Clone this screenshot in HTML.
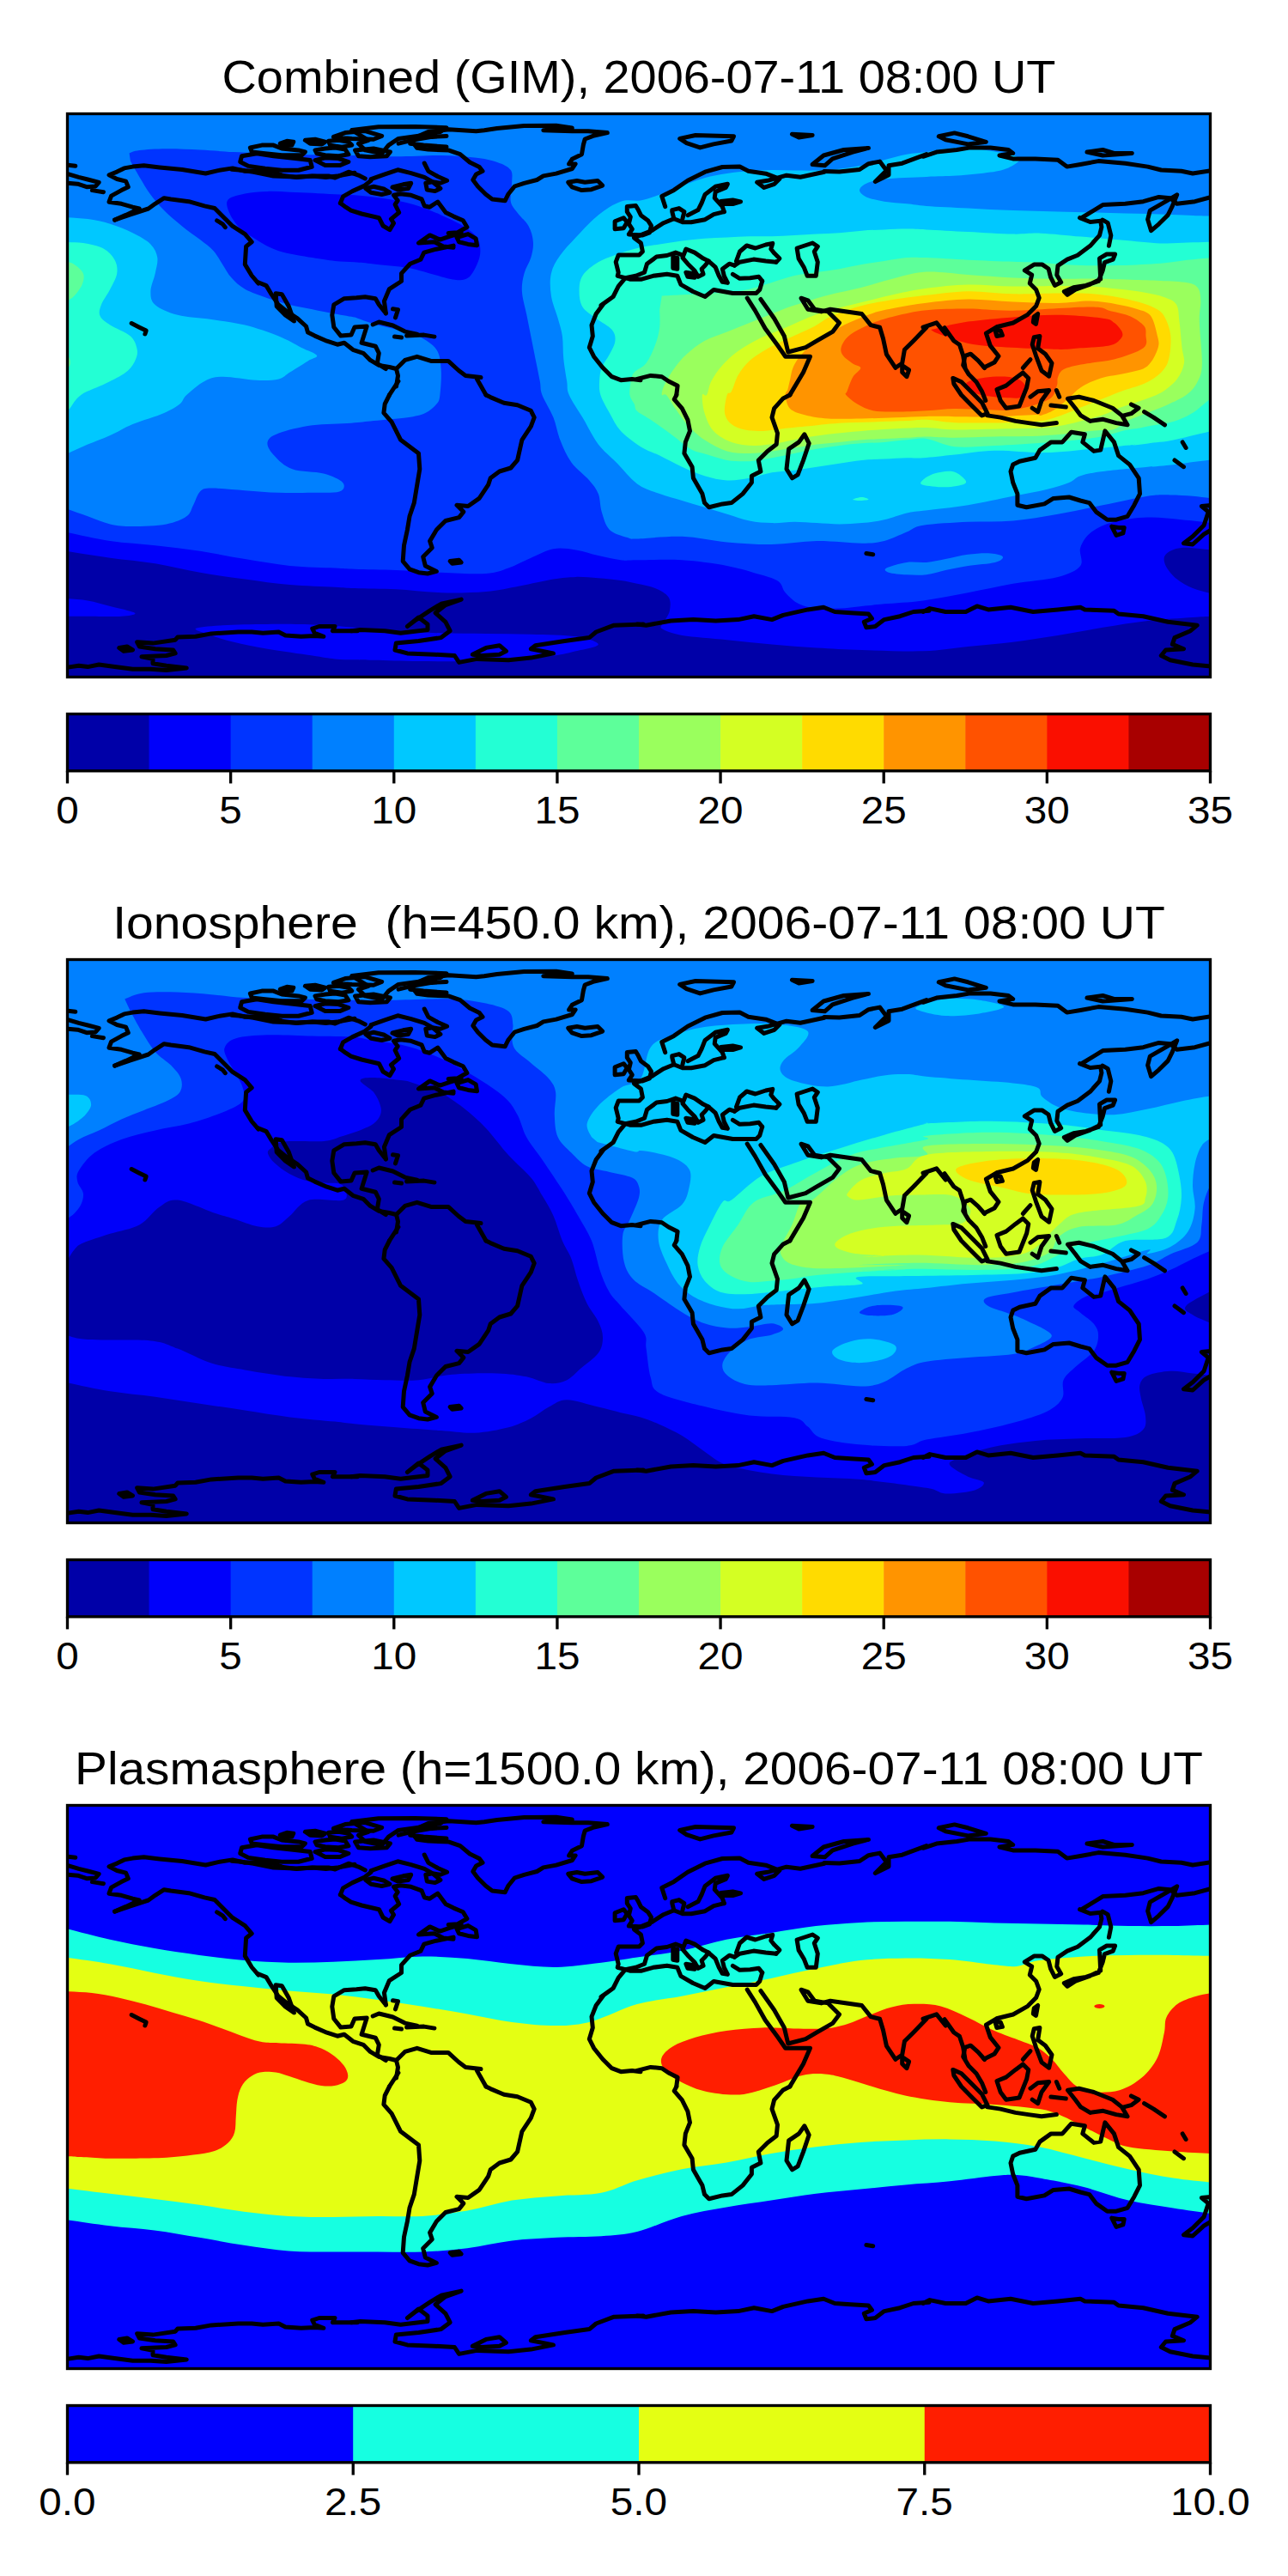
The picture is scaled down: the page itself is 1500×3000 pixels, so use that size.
<!DOCTYPE html>
<html><head><meta charset="utf-8"><title>TEC maps</title><style>html,body{margin:0;padding:0;background:#fff;}svg{display:block;}</style></head><body><svg width="1500" height="3000" viewBox="0 0 1500 3000">
<rect width="1500" height="3000" fill="#fff"/>
<defs><clipPath id="mapclip"><rect x="78.5" y="132.5" width="1331.0" height="656.0"/></clipPath><g id="coast" fill="none" stroke="#000" stroke-width="5" stroke-linejoin="round" stroke-linecap="round"><path d="M79.1,192.3 87.8,193.3"/>
<path d="M79.1,202.7 91.7,206.4 102.2,209.0 115.2,212.4 111.3,216.9 100.9,217.7 90.4,214.2 79.1,213.2"/>
<path d="M107.4,221.6 120.5,223.7"/>
<path d="M133.6,256.1 146.6,250.4 162.3,243.0 154.5,241.2 141.4,237.3 127.0,235.2 129.6,228.1 141.4,221.6 149.3,217.7 146.6,211.1 136.2,208.5 127.0,203.8 136.2,200.1 144.6,195.9 154.5,194.1 167.6,192.8 185.9,194.9 212.1,197.5 239.5,202.0 253.9,198.6 270.9,195.9 285.3,199.3 303.6,198.6 319.3,200.6 329.8,204.6 345.5,206.4 363.8,205.1 379.5,206.4 392.6,205.1 413.0,201.2"/>
<path d="M133.6,256.1 151.9,249.8 172.8,243.0 180.7,237.3 191.1,230.7 199.0,232.0 219.9,234.7 238.2,239.9 250.0,242.5 259.2,251.7 270.9,263.4 285.3,272.6 293.2,281.8 286.6,287.0 285.3,307.9 293.2,321.0 301.0,330.2"/>
<path d="M252.6,256.9 259.2,260.8 262.3,264.7"/>
<path d="M153.2,376.5 162.3,381.2 170.2,385.1 168.9,389.0"/>
<path d="M537.2,271.3 524.1,275.2 512.4,279.1 500.6,273.9 487.5,283.1 505.8,281.8 516.3,287.0 528.0,288.3"/>
<path d="M532.0,276.5 545.1,272.6 554.2,277.8 555.5,285.7 545.1,284.4 534.6,281.8Z"/>
<path d="M555.5,441.4 566.0,459.9"/>
<path d="M463.9,444.0 453.5,459.9"/>
<path d="M702.0,355.0 694.2,365.5 689.0,378.6 690.3,391.6 686.3,404.7 691.6,415.2 702.0,428.3 712.5,438.7 723.0,442.7 736.1,441.4 746.0,442.7"/>
<path d="M281.6,181.7 299.1,178.8 318.5,181.7 343.8,184.6 361.2,186.6 363.2,194.3 347.6,198.2 328.2,198.2 308.8,196.3 289.4,193.4 279.7,188.5Z"/>
<path d="M291.4,172.0 304.9,169.1 318.5,169.1 328.2,173.0 347.6,174.9 355.4,176.9 351.5,180.8 328.2,180.8 308.8,178.8 293.3,176.9Z"/>
<path d="M326.3,167.2 334.1,164.3 341.8,165.2 339.9,169.1 330.2,170.1Z"/>
<path d="M355.4,163.3 367.0,162.3 378.7,165.2 374.8,168.1 361.2,167.2Z"/>
<path d="M367.0,174.9 378.7,173.0 390.3,172.0 402.0,174.0 405.9,179.8 394.2,181.7 378.7,180.8 369.0,178.8Z"/>
<path d="M367.0,186.6 378.7,183.7 394.2,184.6 405.9,188.5 396.2,192.4 378.7,192.4Z"/>
<path d="M382.6,164.3 394.2,163.3 405.9,165.2 409.8,169.1 398.1,171.1 384.5,169.1Z"/>
<path d="M388.4,159.4 402.0,154.6 425.3,152.6 444.7,158.4 435.0,162.3 409.8,161.4Z"/>
<path d="M409.8,151.6 440.8,147.8 483.5,147.4 520.0,148.7 512.6,153.6 493.2,157.5 464.1,161.4 452.5,169.1 444.7,178.8 425.3,174.9 417.5,167.2 429.2,163.3Z"/>
<path d="M413.6,174.9 435.0,173.0 454.4,176.9 450.5,181.7 431.1,182.7 417.5,181.7Z"/>
<path d="M464.1,167.2 479.6,163.3 502.9,159.4 520.0,158.4"/>
<path d="M477.7,167.2 493.2,169.1 520.0,171.1"/>
<path d="M270.0,197.3 281.6,198.2 295.2,200.2 318.5,205.0 343.8,206.0 367.0,205.0 382.6,205.0 390.3,207.0 405.9,200.2 417.5,204.1 425.3,207.9"/>
<path d="M791.7,161.4 810.0,157.5 854.5,158.8 851.9,164.0 831.0,167.9 815.3,171.9 799.6,166.6Z"/>
<path d="M922.5,156.2 946.1,157.5 930.4,160.1Z"/>
<path d="M946.1,191.5 959.2,181.0 982.7,174.5 1011.5,172.4 993.2,177.1 969.6,184.9 960.5,192.8Z"/>
<path d="M960.0,199.6 977.5,200.1 1001.0,197.5 1011.5,190.7 1024.6,188.1 1032.4,198.6 1019.3,211.6 1035.0,203.8 1035.0,192.8 1050.7,190.2 1079.0,179.7"/>
<path d="M870.2,347.2 879.4,361.6 891.1,382.5 905.5,402.1 914.7,415.2 943.5,415.2 935.6,433.5 919.9,459.9"/>
<path d="M885.9,348.5 901.6,370.7 913.4,391.6 917.8,410.0 938.2,404.7 951.3,396.9 969.6,386.4 977.5,375.9 964.4,362.9 948.7,360.2 940.9,349.8 933.0,347.2 940.9,360.2 956.5,362.9 967.0,360.2 1003.6,365.5 1014.1,378.6 1024.6,381.2 1028.5,394.3 1032.4,412.6 1042.9,428.3 1050.7,423.0 1053.4,407.3 1063.8,396.9 1079.0,381.2"/>
<path d="M742.0,441.4 757.7,437.4 770.8,438.7 778.6,444.0 789.1,449.2 787.8,459.9"/>
<path d="M1050.7,425.7 1058.6,430.9 1056.0,438.7 1050.7,433.5Z"/>
<path d="M730.3,240.6 740.4,239.5 743.4,244.6 746.4,250.7 754.5,256.7 758.5,262.8 756.5,270.8 748.4,273.9 732.3,272.9 736.3,266.8 732.3,260.7 734.3,252.7 730.3,246.6Z"/>
<path d="M716.1,257.7 726.2,253.7 730.3,258.7 726.2,265.8 716.1,266.8Z"/>
<path d="M774.7,240.6 770.7,228.4 784.8,221.4 800.9,210.3 821.1,200.2 841.3,194.5 861.5,194.1 871.6,199.2 891.8,202.2 907.9,208.3 901.9,214.3 889.8,218.4 881.7,212.3 893.8,210.3 916.0,204.2 932.1,206.2 960.0,200.2"/>
<path d="M800.9,250.7 813.0,244.6 817.1,236.5 821.1,226.4 833.2,217.3 847.4,214.3 845.3,218.4 833.2,223.4 832.2,230.5 841.3,240.6 843.3,246.6"/>
<path d="M839.3,234.5 853.4,232.9 862.5,234.9 853.4,237.5 841.3,237.5Z"/>
<path d="M782.8,246.6 784.8,254.7 794.9,258.7 805.0,258.7 821.1,255.7 831.2,249.6 843.3,246.6"/>
<path d="M782.8,244.6 790.8,242.6 796.9,246.6 794.9,254.7"/>
<path d="M784.8,254.7 772.7,259.7 764.6,264.8 758.5,268.8 748.4,272.9 738.4,276.9 746.4,283.0 748.4,293.0 744.4,297.1 720.2,297.1 717.2,305.2 720.2,317.3 719.2,321.3 728.3,323.7 720.2,333.4 714.1,345.5 700.0,355.6"/>
<path d="M728.3,323.7 740.4,321.3 750.5,317.3 753.5,307.2 764.6,299.1 776.7,297.5 786.8,294.1 794.9,297.1"/>
<path d="M798.9,290.0 809.0,294.1 819.1,301.1 825.2,304.1 821.1,309.2 817.1,313.2 819.1,319.3 813.0,322.3 809.0,315.2 800.9,307.2 794.9,300.1Z"/>
<path d="M798.9,317.3 811.0,319.3 809.0,323.3 800.9,322.3Z"/>
<path d="M783.8,299.1 788.8,300.1 788.8,313.2 783.8,312.2Z"/>
<path d="M825.2,304.1 833.2,311.2 837.3,321.3 841.3,328.4 847.4,329.4 843.3,321.3 841.3,313.2 849.4,307.2 855.4,309.2"/>
<path d="M855.4,309.2 861.5,305.2 877.6,302.1 891.8,304.1 903.9,305.2"/>
<path d="M853.4,319.3 861.5,324.3 873.6,323.7 883.7,322.3 887.7,327.4"/>
<path d="M857.5,304.1 861.5,293.0 869.6,286.0 879.7,289.0 891.8,285.0 899.8,283.4 897.8,290.0 901.9,295.1 907.9,301.1 903.9,305.2"/>
<path d="M887.7,327.4 884.7,337.5 880.7,341.5 871.6,341.5 853.4,341.5 831.2,337.5 821.1,345.5 807.0,339.5 792.9,331.4 788.8,321.3 776.7,319.3 760.6,321.3 746.4,325.3 734.3,325.3 728.3,323.7"/>
<path d="M928.1,289.0 946.3,283.0 952.3,287.0 948.3,293.0 952.3,305.2 950.3,321.3 940.2,321.3 936.2,311.2 930.1,301.1Z"/>
<path d="M1075.0,182.3 1090.7,177.1 1114.2,174.5 1129.9,171.9 1153.5,171.9 1174.4,174.5 1179.7,178.4 1164.0,181.0 1179.7,184.9 1205.8,184.9 1232.0,186.3 1242.5,194.1 1258.2,191.5 1279.1,187.6 1310.5,190.2 1336.6,194.1 1352.3,198.0 1375.9,199.3 1389.0,202.0 1415.1,198.0"/>
<path d="M1093.3,158.8 1111.6,154.9 1127.3,158.8 1148.3,165.3 1127.3,167.9 1101.2,162.7Z"/>
<path d="M1266.0,177.1 1284.3,174.5 1297.4,178.4 1318.3,178.4 1284.3,181.0Z"/>
<path d="M1415.1,228.1 1391.6,234.7 1370.7,237.3 1362.8,230.7 1349.7,229.4 1331.4,234.7 1310.5,237.3 1284.3,238.6 1260.8,253.0"/>
<path d="M1101.2,389.0 1090.7,375.9 1075.0,381.2"/>
<path d="M1370.7,226.8 1357.6,234.7 1339.3,245.1 1336.6,255.6 1340.6,268.7 1349.7,260.8 1360.2,250.4 1365.4,239.9Z"/>
<path d="M79.1,777.1 91.7,775.3 102.2,776.6 115.2,774.0 133.6,776.6 154.5,779.2 175.4,779.2 193.7,780.5 217.3,777.9 193.7,775.3 178.0,772.7 178.0,767.4 165.0,764.8 193.7,763.5 204.2,760.9 201.6,757.0 180.7,755.7 162.3,753.0 159.7,747.8 178.0,749.1 204.2,745.2 206.8,742.1 227.8,741.3 246.1,737.9 277.5,736.0 293.2,736.0 306.2,737.3 324.6,736.0 332.4,740.0 350.7,741.3 366.4,740.5 376.9,741.3 366.4,737.3 363.8,732.1 371.7,729.5 390.0,729.5 387.4,734.7 416.1,734.7"/>
<path d="M138.8,754.4 148.0,753.0 154.5,757.0 144.0,758.3Z"/>
<path d="M453.5,460.0 448.2,470.5 446.9,480.9 456.1,491.4 466.6,512.3 487.5,528.0 488.8,546.3 484.9,569.9 482.3,585.6 477.0,601.3 474.4,617.0 470.5,635.3 469.2,653.6 477.0,662.8 487.5,666.7 498.0,668.0 508.4,665.4 495.3,658.9 492.7,648.4 503.2,637.9 500.6,630.1 508.4,617.0 518.9,606.5 534.6,602.6 539.8,596.1 532.0,588.2 545.1,589.5 558.1,580.4 568.6,564.7 571.2,556.8 581.7,549.0 594.8,545.0 602.6,535.9 607.9,512.3 618.3,496.6 622.2,486.2 618.3,478.3 602.6,471.8 586.9,469.2 571.2,462.6 566.0,460.0"/>
<path d="M524.1,653.6 534.6,652.3 537.2,654.9 526.7,656.2Z"/>
<path d="M409.0,734.7 419.5,733.4 448.2,734.7 466.6,737.3 498.0,733.4 498.0,726.9 487.5,719.0 474.4,729.5 484.9,721.6 500.6,711.2 513.7,703.3 537.2,698.1 518.9,704.6 507.1,713.8 518.9,724.3 524.1,734.7 513.7,742.6 487.5,746.5 461.3,749.1 460.0,757.0 474.4,760.9 505.8,762.2 529.4,763.5 534.6,771.4 555.5,767.4 592.2,768.7 618.3,766.1 644.5,760.9 618.3,755.7 623.5,751.7 657.6,746.5 686.3,742.6 694.2,736.0 715.1,728.2 749.1,726.9"/>
<path d="M550.3,762.2 566.0,754.4 581.7,751.7 589.5,758.3 581.7,762.2 560.8,763.5Z"/>
<path d="M787.8,460.0 785.2,465.2 794.3,475.7 800.9,488.8 803.5,501.9 798.3,514.9 796.9,528.0 806.1,543.7 807.4,556.8 817.9,575.1 820.5,585.6 825.7,590.8 841.4,586.9 851.9,585.6 865.0,575.1 875.4,562.0 875.4,554.2 885.9,549.0 883.3,535.9 893.8,525.4 904.2,517.6 905.5,504.5 899.0,486.2 901.6,475.7 912.1,463.9 919.9,460.0"/>
<path d="M936.9,505.8 942.2,516.3 935.6,535.9 929.1,552.9 922.5,556.8 916.0,546.3 918.6,522.8 930.4,514.9Z"/>
<path d="M1008.9,644.5 1016.7,645.8"/>
<path d="M742.0,726.9 752.5,728.2 781.2,723.0 807.4,721.6 833.6,723.0 859.7,721.6 878.1,717.7 899.0,721.6 912.1,716.4 940.9,709.9 959.2,707.3 972.2,712.5 990.6,713.8 1011.5,715.1 1015.4,720.3 1006.3,724.3 1008.9,730.8 1019.3,729.5 1029.8,721.6 1048.1,717.7 1063.8,712.5 1082.1,711.2"/>
<path d="M1377.2,514.9 1381.1,521.5"/>
<path d="M1368.0,535.9 1378.5,543.7"/>
<path d="M1179.7,541.1 1187.5,537.2 1205.8,533.3 1211.1,524.1 1224.1,514.9 1237.2,514.9 1247.7,503.2 1263.4,505.8 1260.8,514.9 1273.9,525.4 1281.7,524.1 1286.9,501.9 1297.4,514.9 1302.6,530.6 1315.7,541.1 1326.2,556.8 1327.5,575.1 1320.9,588.2 1313.1,601.3 1300.0,605.2 1289.5,605.2 1276.5,596.1 1268.6,585.6 1258.2,583.0 1245.1,579.0 1226.8,580.4 1216.3,586.9 1195.4,590.8 1184.9,588.2 1184.9,575.1 1179.7,562.0 1177.0,549.0Z"/>
<path d="M1294.8,613.1 1302.6,614.4 1309.2,614.4 1307.9,620.9 1300.0,623.5Z"/>
<path d="M1415.1,588.2 1399.4,589.5 1407.3,596.1 1402.1,611.8 1389.0,624.8 1378.5,632.7 1389.0,634.0 1402.1,622.2 1415.1,614.4"/>
<path d="M1075.0,712.5 1082.8,708.6 1101.2,712.5 1124.7,712.5 1137.8,705.9 1150.9,709.9 1177.0,707.3 1203.2,712.5 1232.0,709.9 1258.2,707.3 1263.4,709.9 1297.4,711.2 1302.6,715.1 1331.4,717.7 1360.2,724.3 1394.2,728.2 1386.4,734.7 1368.0,742.6 1365.4,750.4 1378.5,755.7 1357.6,757.0 1352.3,763.5 1362.8,768.7 1389.0,774.0 1415.1,776.6"/>
<path d="M1146.7,428.5 1139.1,419.8 1130.4,412.2 1123.9,414.3 1121.7,425.2 1128.3,436.1 1137.0,444.8 1143.5,455.7 1147.8,466.5"/>
<path d="M1100.0,381.7 1110.9,397.0 1117.4,401.3 1121.7,414.3 1123.9,427.4"/>
<path d="M1158.7,383.9 1165.2,385.0 1167.4,390.4 1160.9,391.5Z"/>
<path d="M1109.8,440.4 1119.6,444.8 1132.6,457.8 1143.5,468.7 1150.0,481.7 1143.5,483.9 1130.4,470.9 1119.6,460.0 1110.9,447.0Z"/>
<path d="M1150.0,483.9 1165.2,486.1 1182.6,490.4 1197.8,492.6 1213.0,494.8 1230.4,492.6"/>
<path d="M1160.9,453.5 1171.7,449.1 1182.6,440.4 1191.3,433.9 1197.8,440.4 1195.7,451.3 1191.3,462.2 1187.0,473.0 1171.7,475.2 1165.2,466.5Z"/>
<path d="M1200.0,462.2 1208.7,455.7 1221.7,454.6 1213.0,466.5 1208.7,479.6 1202.2,475.2"/>
<path d="M1204.3,392.6 1210.9,391.5 1208.7,405.7 1217.4,412.2 1225.0,423.0 1221.7,438.3 1213.0,431.7 1206.5,414.3 1202.2,401.3Z"/>
<path d="M1204.3,368.7 1208.7,365.4 1206.5,377.4 1203.3,375.2Z"/>
<path d="M1191.3,428.5 1200.0,418.7"/>
<path d="M1230.4,454.6 1233.7,462.2"/>
<path d="M1223.9,472.0 1241.3,474.1"/>
<path d="M1243.5,464.3 1256.5,462.2 1273.9,466.5 1295.7,475.2 1306.5,483.9 1313.0,494.8 1300.0,492.6 1284.8,488.3 1269.6,490.4 1258.7,483.9 1252.2,475.2Z"/>
<path d="M1317.4,470.9 1326.1,475.2 1317.4,481.7 1308.7,483.9"/>
<path d="M1332.6,479.6 1343.5,486.1 1356.5,494.8"/>
<path d="M300.0,328.5 310.1,332.6 316.1,342.7 324.2,354.8 334.3,362.9 346.4,370.9 356.5,380.0 358.5,387.1 366.6,391.1 380.7,397.2 392.9,401.2 400.9,399.2 411.0,407.3 423.1,411.3 431.2,419.4 441.3,425.4 453.4,427.5 461.5,429.5 463.5,437.5 461.5,450.1"/>
<path d="M321.2,341.7 328.3,342.7 336.3,356.8 342.4,374.0 332.3,366.9 322.2,356.8Z"/>
<path d="M449.4,364.9 441.3,354.8 437.3,347.7 425.2,345.7 415.1,346.7 400.9,347.7 388.8,354.8 386.8,366.9 388.8,381.0 396.9,391.1 409.0,390.1 413.0,381.0 427.2,380.0 421.1,399.2 437.3,403.2 441.3,411.3 439.3,423.4 449.4,429.5"/>
<path d="M449.4,364.9 447.4,350.7 453.4,336.6 467.5,327.5 467.5,318.4 477.6,307.3 489.8,302.3 493.8,294.2 507.9,290.2 528.1,286.1"/>
<path d="M434.2,378.0 441.3,375.0 457.5,379.0 471.6,386.1 485.7,389.1"/>
<path d="M473.6,391.1 493.8,390.1 505.9,392.1"/>
<path d="M459.5,392.1 467.5,393.1"/>
<path d="M457.5,359.8 463.5,360.8 460.5,369.9"/>
<path d="M461.5,429.5 471.6,419.4 485.7,415.3 501.9,420.4 522.0,420.4 534.2,431.5 542.2,437.5 560.0,439.6"/>
<path d="M480.0,164.8 485.6,172.3 498.6,174.1 522.9,175.1 535.9,179.7 547.1,189.0 558.3,194.6 562.0,199.3 554.5,203.0 550.8,209.5 556.4,217.0 565.7,226.3 573.2,231.9 588.1,233.8 591.8,226.3 599.3,217.0 610.4,213.3 625.3,209.5 632.8,204.9 647.7,202.1 666.3,196.5 670.1,190.9 662.6,190.9 666.3,185.3 677.5,179.7 679.4,168.5 681.2,162.0 690.6,158.3 707.3,154.6 685.0,152.7 666.3,152.7 632.8,151.8 666.3,149.0 647.7,146.2 610.4,146.6 578.8,149.5 563.9,151.8 554.5,152.7 522.9,150.8 498.6,153.6 485.6,159.2"/>
<path d="M661.7,212.3 671.9,210.5 681.2,212.3 696.1,210.5 701.7,216.1 688.7,220.7 677.5,221.6 666.3,217.9Z"/>
<path d="M1257.5,253.6 1269.6,258.5 1281.7,257.3 1282.9,264.5 1280.5,274.2 1269.6,286.3 1255.0,297.2 1242.9,302.1 1232.0,309.3 1230.8,320.2 1235.7,328.7 1228.4,332.4 1223.5,322.7 1221.1,313.0 1213.9,308.1 1204.2,308.1 1193.3,314.9 1201.7,320.2 1199.3,329.9 1206.6,337.2 1210.2,346.9 1206.6,356.6 1196.9,366.3 1179.9,376.0 1160.6,380.8 1148.4,388.1 1153.3,402.6 1163.0,414.7 1158.1,422.0 1146.0,428.0"/>
<path d="M1284.1,256.1 1290.2,259.7 1293.8,274.2 1291.4,286.3"/>
<path d="M1280.5,300.9 1288.9,296.0 1298.6,296.0 1296.2,302.1 1286.5,305.7 1284.1,315.4 1279.3,327.5 1264.7,332.4 1250.2,334.8 1239.3,339.6 1242.9,343.3 1252.6,337.2 1269.6,331.1 1281.7,325.1Z"/>
<path d="M396.4,236.6 402.6,241.2 408.8,245.1 421.2,249.0 441.4,253.7 446.1,263.0 453.9,267.6 458.5,259.9 455.4,255.2 464.7,247.5 460.1,238.1 463.2,233.5 458.5,227.3 466.3,225.7 478.7,227.3 491.1,231.9 494.2,239.7 500.4,241.2 509.8,235.0 519.1,247.5 528.4,252.1 539.3,256.8 543.9,264.5 533.0,270.7 522.2,271.5"/>
<path d="M396.4,236.6 399.5,228.8 410.4,222.6 424.3,216.4 432.1,210.2"/>
<path d="M425.9,219.5 435.2,217.2 447.6,220.3 453.9,224.2 444.5,226.5 432.1,224.2Z"/>
<path d="M457.0,218.0 469.4,214.8 478.7,213.3 475.6,219.5 463.2,221.1Z"/>
<path d="M432.1,208.6 447.6,203.2 463.2,197.8 478.7,201.6 494.2,206.3 503.5,211.7 512.9,213.3 520.6,210.2 509.8,205.5 498.9,199.3 494.2,190.0"/>
<path d="M495.8,213.3 503.5,211.7 512.9,219.5 506.6,222.6 497.3,221.1Z"/></g></defs>
<text x="744" y="108.2" font-family="&apos;Liberation Sans&apos;, sans-serif" font-size="53" text-anchor="middle" textLength="971.0" lengthAdjust="spacingAndGlyphs">Combined&#160;(GIM),&#160;2006-07-11&#160;08:00&#160;UT</text>
<g transform="translate(0,0.0)">
<g clip-path="url(#mapclip)">
<rect x="78.5" y="132.5" width="1331.0" height="656.0" fill="#0080ff"/>
<path fill="#0034ff" d="M150.6,178.4C152.5,177.8 155.1,175.9 162.3,175.0C169.5,174.1 182.0,173.3 193.7,173.2C205.5,173.1 219.9,173.8 233.0,174.5C246.1,175.1 254.8,176.2 272.2,177.1C289.7,178.0 314.2,179.1 337.6,179.7C361.1,180.4 392.4,180.6 413.0,181.0C433.6,181.5 444.6,182.3 461.3,182.3C478.1,182.3 498.4,180.8 513.7,181.0C528.9,181.2 542.0,182.3 552.9,183.6C563.8,184.9 572.1,186.5 579.1,188.9C586.0,191.3 591.9,193.9 594.8,198.0C597.6,202.2 596.1,207.6 596.1,213.7C596.1,219.8 593.7,229.0 594.8,234.7C595.9,240.3 599.1,242.9 602.6,247.7C606.1,252.5 612.6,257.8 615.7,263.4C618.8,269.1 620.5,275.6 620.9,281.8C621.4,287.9 620.1,294.0 618.3,300.1C616.6,306.2 612.2,311.8 610.5,318.4C608.7,324.9 607.4,331.5 607.9,339.3C608.3,347.2 611.3,356.8 613.1,365.5C614.8,374.2 616.6,382.9 618.3,391.6C620.1,400.4 621.8,409.1 623.5,417.8C625.3,426.5 627.5,437.0 628.8,444.0C630.1,451.0 628.8,452.9 631.4,459.9C634.0,467.0 641.0,477.4 644.5,486.2C648.0,494.9 648.8,503.6 652.3,512.3C655.8,521.1 659.7,530.6 665.4,538.5C671.1,546.3 681.1,553.3 686.3,559.4C691.6,565.5 694.4,569.0 696.8,575.1C699.2,581.2 698.6,589.1 700.7,596.1C702.9,603.0 704.9,612.0 709.9,617.0C714.9,622.0 725.5,624.4 730.8,626.1C736.2,627.9 731.4,627.7 742.0,627.5C752.6,627.2 776.9,624.2 794.3,624.8C811.8,625.5 829.2,629.9 846.7,631.4C864.1,632.9 881.5,634.2 899.0,634.0C916.4,633.8 933.9,630.3 951.3,630.1C968.8,629.9 990.6,632.7 1003.6,632.7C1016.7,632.7 1021.1,632.3 1029.8,630.1C1038.5,627.9 1048.4,622.7 1056.0,619.6C1063.5,616.6 1063.1,613.7 1075.0,611.8C1086.9,609.8 1109.9,608.7 1127.3,607.8C1144.8,607.0 1162.2,608.0 1179.7,606.5C1197.1,605.0 1214.5,601.7 1232.0,598.7C1249.4,595.6 1266.9,591.7 1284.3,588.2C1301.8,584.7 1323.6,579.7 1336.6,577.7C1349.7,575.8 1354.1,576.4 1362.8,576.4C1371.5,576.4 1380.8,577.1 1389.0,577.7C1397.2,578.4 1404.4,579.5 1412.0,580.4C1419.6,581.2 1430.8,582.5 1434.5,582.9L1434.5,815.0C1435.4,815.0 1672.4,815.0 1440.0,815.0C1207.6,815.0 271.1,815.0 40.0,815.0C-191.1,815.0 51.2,815.0 53.5,815.0L53.5,584.3C57.2,585.6 67.9,589.3 76.0,592.1C84.1,595.0 93.4,598.2 102.2,601.3C110.9,604.3 119.6,608.5 128.3,610.4C137.1,612.4 143.6,613.1 154.5,613.1C165.4,613.1 183.3,612.4 193.7,610.4C204.2,608.5 212.1,605.0 217.3,601.3C222.5,597.6 222.5,593.0 225.1,588.2C227.8,583.4 229.5,575.8 233.0,572.5C236.5,569.2 237.3,568.8 246.1,568.6C254.8,568.4 272.2,570.3 285.3,571.2C298.4,572.1 311.5,573.4 324.6,573.8C337.6,574.3 352.0,574.0 363.8,573.8C375.6,573.6 389.3,574.5 395.2,572.5C401.1,570.5 402.2,565.5 399.1,562.0C396.1,558.6 386.7,554.2 376.9,551.6C367.1,549.0 349.9,549.8 340.3,546.3C330.7,542.9 324.1,535.9 319.3,530.6C314.5,525.4 310.6,519.3 311.5,514.9C312.4,510.6 315.8,507.8 324.6,504.5C333.3,501.2 349.7,497.3 363.8,495.3C377.9,493.4 397.1,493.6 409.0,492.7C420.9,491.8 424.3,491.2 435.2,490.1C446.1,489.0 464.4,487.7 474.4,486.2C484.4,484.6 489.7,483.5 495.3,480.9C501.0,478.3 505.6,474.0 508.4,470.5C511.3,467.0 511.5,466.5 512.4,459.9C513.2,453.3 514.3,439.7 513.7,430.9C513.0,422.1 512.8,413.9 508.4,407.3C504.1,400.8 495.3,395.6 487.5,391.6C479.6,387.7 470.1,386.2 461.3,383.8C452.6,381.4 443.9,379.9 435.2,377.3C426.4,374.6 412.7,369.4 409.0,368.1C405.3,366.8 416.2,369.8 413.0,369.4C409.8,369.0 398.2,367.0 390.0,365.5C381.8,364.0 372.5,362.0 363.8,360.2C355.1,358.5 346.4,357.2 337.6,355.0C328.9,352.8 320.2,350.2 311.5,347.2C302.8,344.1 292.3,340.6 285.3,336.7C278.3,332.8 274.0,328.4 269.6,323.6C265.3,318.8 262.6,313.2 259.2,307.9C255.7,302.7 253.0,297.0 248.7,292.2C244.3,287.4 239.1,283.9 233.0,279.1C226.9,274.3 219.0,269.1 212.1,263.4C205.1,257.8 197.2,251.2 191.1,245.1C185.0,239.0 180.2,233.4 175.4,226.8C170.6,220.3 166.3,212.4 162.3,205.9C158.4,199.3 153.6,190.6 151.9,187.6Z"/>
<path fill="#0000fa" d="M264.4,234.7C266.1,228.8 277.5,227.5 285.3,225.5C293.2,223.5 302.8,223.2 311.5,222.9C320.2,222.6 328.9,223.4 337.6,223.7C346.4,224.0 355.1,224.3 363.8,224.7C372.5,225.2 381.8,225.8 390.0,226.3C398.2,226.7 405.4,226.8 412.9,227.3C420.5,227.9 427.1,228.4 435.2,229.4C443.2,230.4 452.6,231.6 461.3,233.4C470.1,235.1 478.8,237.1 487.5,239.9C496.2,242.7 504.9,246.4 513.7,250.4C522.4,254.3 532.8,259.1 539.8,263.4C546.8,267.8 552.3,271.7 555.5,276.5C558.8,281.3 559.4,287.0 559.4,292.2C559.4,297.5 557.9,302.7 555.5,307.9C553.1,313.2 549.4,320.7 545.1,323.6C540.7,326.6 536.8,326.6 529.4,325.7C521.9,324.8 509.7,320.7 500.6,318.4C491.4,316.1 485.3,313.7 474.4,311.8C463.5,310.0 445.4,308.5 435.2,307.4C424.9,306.3 420.5,305.9 412.9,305.3C405.4,304.7 398.2,304.9 390.0,304.0C381.8,303.1 374.7,302.0 363.8,300.1C352.9,298.1 335.5,295.7 324.6,292.2C313.7,288.7 306.7,284.4 298.4,279.1C290.1,273.9 280.5,268.2 274.9,260.8C269.2,253.4 262.6,240.5 264.4,234.7Z"/>
<path fill="#0000fa" d="M53.5,615.1C57.2,615.9 63.5,617.1 76.0,619.6C88.5,622.1 110.9,627.5 128.3,630.1C145.8,632.7 163.2,633.3 180.7,635.3C198.1,637.3 215.5,639.2 233.0,641.8C250.4,644.5 267.9,648.2 285.3,651.0C302.8,653.8 320.2,657.1 337.6,658.9C355.1,660.6 377.4,660.8 390.0,661.5C402.5,662.1 401.0,662.3 412.9,662.8C424.8,663.2 444.5,663.4 461.3,664.1C478.1,664.7 496.2,666.0 513.7,666.7C531.1,667.4 552.9,668.9 566.0,668.0C579.1,667.1 583.4,664.5 592.2,661.5C600.9,658.4 609.6,653.4 618.3,649.7C627.0,646.0 635.8,640.8 644.5,639.2C653.2,637.7 661.9,639.2 670.6,640.5C679.4,641.8 688.1,645.1 696.8,647.1C705.5,649.0 715.4,651.4 723.0,652.3C730.5,653.2 730.1,652.3 742.0,652.3C753.9,652.3 776.9,651.2 794.3,652.3C811.8,653.4 831.4,656.0 846.7,658.9C861.9,661.7 875.9,666.3 885.9,669.3C895.9,672.4 902.0,673.7 906.8,677.2C911.6,680.7 910.8,685.9 914.7,690.2C918.6,694.6 924.3,700.3 930.4,703.3C936.5,706.4 943.5,707.7 951.3,708.6C959.2,709.4 968.8,709.0 977.5,708.6C986.2,708.1 994.9,706.8 1003.6,705.9C1012.4,705.1 1017.9,704.4 1029.8,703.3C1041.7,702.2 1058.7,701.6 1075.0,699.4C1091.3,697.2 1109.9,693.5 1127.3,690.2C1144.8,687.0 1162.2,682.8 1179.7,679.8C1197.1,676.7 1218.9,675.4 1232.0,671.9C1245.1,668.4 1253.8,664.5 1258.2,658.9C1262.5,653.2 1256.0,644.5 1258.2,637.9C1260.3,631.4 1264.7,624.6 1271.2,619.6C1277.8,614.6 1286.5,610.7 1297.4,607.8C1308.3,605.0 1323.6,603.0 1336.6,602.6C1349.7,602.2 1363.3,604.1 1375.9,605.2C1388.5,606.3 1402.2,608.1 1412.0,609.1C1421.8,610.2 1430.8,611.2 1434.5,611.6L1434.5,815.0C1435.4,815.0 1672.4,815.0 1440.0,815.0C1207.6,815.0 271.1,815.0 40.0,815.0C-191.1,815.0 51.2,815.0 53.5,815.0Z"/>
<path fill="#0080ff" d="M1032.4,661.5C1035.9,659.5 1048.2,656.0 1056.0,654.9C1063.7,653.8 1071.4,655.6 1078.9,654.9C1086.5,654.3 1093.1,652.5 1101.2,651.0C1109.2,649.5 1118.6,646.9 1127.3,645.8C1136.1,644.7 1146.7,644.0 1153.5,644.5C1160.3,644.9 1167.0,646.6 1167.9,648.4C1168.8,650.1 1165.5,653.2 1158.7,654.9C1152.0,656.7 1136.9,657.3 1127.3,658.9C1117.7,660.4 1109.2,662.3 1101.2,664.1C1093.1,665.8 1086.5,668.4 1078.9,669.3C1071.4,670.2 1063.3,669.8 1056.0,669.3C1048.7,668.9 1039.0,668.0 1035.0,666.7C1031.1,665.4 1028.9,663.4 1032.4,661.5Z"/>
<path fill="#0000a8" d="M53.5,638.5C57.2,639.0 63.5,640.0 76.0,641.8C88.5,643.7 110.9,647.3 128.3,649.7C145.8,652.1 163.2,653.4 180.7,656.2C198.1,659.1 215.5,663.6 233.0,666.7C250.4,669.8 267.9,672.2 285.3,674.5C302.8,676.9 320.2,679.6 337.6,681.1C355.1,682.6 377.4,683.1 390.0,683.7C402.5,684.4 401.0,684.6 412.9,685.0C424.8,685.5 444.5,685.5 461.3,686.3C478.1,687.2 496.2,689.8 513.7,690.2C531.1,690.7 550.7,690.2 566.0,688.9C581.3,687.6 592.2,684.8 605.2,682.4C618.3,680.0 633.6,676.3 644.5,674.5C655.4,672.8 661.9,672.2 670.6,671.9C679.4,671.7 688.1,672.6 696.8,673.2C705.5,673.9 715.4,674.8 723.0,675.9C730.5,676.9 735.3,678.3 742.0,679.8C748.7,681.3 756.8,682.4 762.9,685.0C769.0,687.6 775.8,691.1 778.6,695.5C781.5,699.8 780.8,706.4 779.9,711.2C779.1,716.0 774.9,720.8 773.4,724.3C771.9,727.8 767.3,729.5 770.8,732.1C774.3,734.7 781.7,737.8 794.3,740.0C807.0,742.1 829.2,743.4 846.7,745.2C864.1,746.9 881.5,748.9 899.0,750.4C916.4,752.0 933.9,753.3 951.3,754.4C968.8,755.4 983.0,756.3 1003.6,757.0C1024.3,757.6 1054.4,758.9 1075.0,758.3C1095.6,757.6 1109.9,754.8 1127.3,753.0C1144.8,751.3 1162.2,750.0 1179.7,747.8C1197.1,745.6 1214.5,742.8 1232.0,740.0C1249.4,737.1 1266.9,733.6 1284.3,730.8C1301.8,728.0 1319.2,724.9 1336.6,723.0C1354.1,721.0 1376.4,719.9 1389.0,719.0C1401.5,718.2 1404.4,718.2 1412.0,717.7C1419.6,717.3 1430.8,716.7 1434.5,716.4L1434.5,815.0C1435.4,815.0 1672.4,815.0 1440.0,815.0C1207.6,815.0 271.1,815.0 40.0,815.0C-191.1,815.0 51.2,815.0 53.5,815.0Z"/>
<path fill="#0000a8" d="M1434.5,642.2C1430.8,641.9 1421.8,641.2 1412.0,640.5C1402.2,639.8 1385.0,637.0 1375.9,637.9C1366.8,638.8 1360.6,642.3 1357.6,645.8C1354.5,649.3 1355.4,654.1 1357.6,658.9C1359.8,663.6 1365.4,670.2 1370.7,674.5C1375.9,678.9 1382.1,682.2 1389.0,685.0C1395.9,687.9 1404.4,689.4 1412.0,691.6C1419.6,693.7 1430.8,696.9 1434.5,697.9Z"/>
<path fill="#0000fa" d="M53.5,694.5C57.2,694.9 67.9,696.0 76.0,696.8C84.1,697.6 93.4,697.9 102.2,699.4C110.9,700.9 119.2,703.5 128.3,705.9C137.5,708.3 154.9,711.8 157.1,713.8C159.3,715.8 150.6,717.1 141.4,717.7C132.3,718.4 113.1,717.7 102.2,717.7C91.3,717.7 84.1,717.7 76.0,717.7C67.9,717.7 57.2,717.7 53.5,717.7Z"/>
<path fill="#0000fa" d="M227.8,732.1C229.9,730.1 245.2,729.1 259.2,728.2C273.1,727.3 294.0,727.0 311.5,726.9C328.9,726.7 350.7,727.1 363.8,727.4C376.9,727.8 381.8,728.4 390.0,729.0C398.2,729.5 401.0,729.8 412.9,730.8C424.8,731.8 444.5,733.6 461.3,734.7C478.1,735.8 496.2,736.8 513.7,737.3C531.1,737.9 548.5,737.6 566.0,737.9C583.4,738.1 600.9,738.1 618.3,738.7C635.8,739.2 657.6,739.3 670.6,741.3C683.7,743.2 696.8,747.6 696.8,750.4C696.8,753.3 679.4,756.1 670.6,758.3C661.9,760.5 657.6,762.0 644.5,763.5C631.4,765.0 609.6,766.3 592.2,767.4C574.7,768.5 557.3,769.6 539.8,770.1C522.4,770.5 504.9,770.3 487.5,770.1C470.1,769.8 447.6,769.0 435.2,768.7C422.7,768.4 420.5,768.4 412.9,768.2C405.4,768.0 398.2,768.2 390.0,767.4C381.8,766.6 376.9,765.5 363.8,763.5C350.7,761.5 326.7,758.3 311.5,755.7C296.2,753.0 283.1,750.4 272.2,747.8C261.3,745.2 253.5,742.6 246.1,740.0C238.7,737.3 225.6,734.1 227.8,732.1Z"/>
<path fill="#00c8ff" d="M53.5,251.2C57.2,251.5 67.9,252.3 76.0,253.0C84.1,253.6 93.4,253.8 102.2,255.1C110.9,256.4 119.6,258.1 128.3,260.8C137.1,263.5 146.6,267.4 154.5,271.3C162.3,275.2 170.6,279.6 175.4,284.4C180.2,289.2 182.4,294.4 183.3,300.1C184.1,305.7 182.0,311.8 180.7,318.4C179.4,324.9 175.4,333.2 175.4,339.3C175.4,345.4 175.4,350.4 180.7,355.0C185.9,359.6 195.9,364.0 206.8,366.8C217.7,369.6 233.0,370.1 246.1,372.0C259.2,374.0 272.2,375.3 285.3,378.6C298.4,381.8 313.7,387.3 324.6,391.6C335.5,396.0 343.3,401.0 350.7,404.7C358.1,408.4 367.7,411.3 369.0,413.9C370.4,416.5 363.8,417.2 358.6,420.4C353.3,423.7 343.3,430.0 337.6,433.5C332.0,437.0 331.1,439.8 324.6,441.4C318.0,442.9 309.3,443.1 298.4,442.7C287.5,442.2 269.2,438.5 259.2,438.7C249.1,439.0 245.2,440.4 238.2,444.0C231.2,447.5 222.1,455.6 217.3,460.0C212.5,464.4 213.8,467.0 209.4,470.5C205.1,474.0 200.3,477.0 191.1,480.9C182.0,484.9 165.0,489.7 154.5,494.0C144.0,498.4 137.1,503.2 128.3,507.1C119.6,511.0 110.9,513.9 102.2,517.6C93.4,521.3 84.1,525.7 76.0,529.3C67.9,533.0 57.2,537.8 53.5,539.5Z"/>
<path fill="#23ffd4" d="M53.5,280.3C57.2,280.6 68.8,281.3 76.0,281.8C83.2,282.2 89.5,281.8 96.9,283.1C104.3,284.4 114.4,286.3 120.5,289.6C126.6,292.9 130.9,297.9 133.6,302.7C136.2,307.5 137.1,312.7 136.2,318.4C135.3,324.1 131.4,330.6 128.3,336.7C125.3,342.8 119.8,349.8 117.9,355.0C115.9,360.2 114.8,364.2 116.6,368.1C118.3,372.0 122.4,374.6 128.3,378.6C134.2,382.5 146.6,386.8 151.9,391.6C157.1,396.4 158.9,402.5 159.7,407.3C160.6,412.1 159.3,416.1 157.1,420.4C154.9,424.8 152.3,429.1 146.6,433.5C141.0,437.9 131.8,442.2 123.1,446.6C114.4,451.0 101.3,455.1 94.3,460.0C87.3,464.9 84.3,472.2 81.2,475.7C78.2,479.2 80.6,476.3 76.0,480.9C71.4,485.6 57.2,499.7 53.5,503.4Z"/>
<path fill="#5dff9a" d="M53.5,295.6C57.2,297.0 70.5,301.9 76.0,304.0C81.5,306.1 83.0,305.5 86.5,307.9C90.0,310.3 95.4,314.5 96.9,318.4C98.5,322.3 97.4,327.1 95.6,331.5C93.9,335.8 89.7,341.1 86.5,344.5C83.2,348.0 81.5,348.3 76.0,352.4C70.5,356.5 57.2,366.5 53.5,369.3Z"/>
<path fill="#5dff9a" d="M53.5,390.1C57.2,393.8 71.4,408.0 76.0,412.6C80.6,417.2 80.4,415.6 81.2,417.8C82.1,420.0 82.1,423.9 81.2,425.7C80.4,427.4 80.6,426.0 76.0,428.3C71.4,430.6 57.2,437.7 53.5,439.5Z"/>
<path fill="#00c8ff" d="M1434.5,252.4C1430.8,252.3 1419.6,251.9 1412.0,251.7C1404.4,251.4 1401.5,251.3 1389.0,250.9C1376.4,250.4 1354.1,249.6 1336.6,249.0C1319.2,248.5 1301.8,248.2 1284.3,247.7C1266.9,247.3 1249.4,246.9 1232.0,246.4C1214.5,246.0 1197.1,245.8 1179.7,245.1C1162.2,244.5 1144.1,243.4 1127.3,242.5C1110.5,241.6 1090.8,240.8 1078.9,239.9C1067.0,239.0 1064.2,238.1 1056.0,237.3C1047.8,236.4 1037.7,236.0 1029.8,234.7C1022.0,233.4 1013.7,231.6 1008.9,229.4C1004.1,227.2 1001.0,224.2 1001.0,221.6C1001.0,219.0 1004.1,215.9 1008.9,213.7C1013.7,211.5 1018.1,209.8 1029.8,208.5C1041.5,207.2 1064.9,206.5 1079.0,205.9C1093.1,205.2 1101.8,205.4 1114.2,204.6C1126.7,203.7 1143.5,202.2 1153.5,200.6C1163.5,199.1 1168.8,197.8 1174.4,195.4C1180.1,193.0 1186.6,188.7 1187.5,186.3C1188.4,183.9 1185.3,182.8 1179.7,181.0C1174.0,179.3 1162.2,177.3 1153.5,175.8C1144.8,174.3 1136.1,172.3 1127.3,171.9C1118.6,171.4 1109.2,172.3 1101.2,173.2C1093.1,174.0 1086.5,176.0 1078.9,177.1C1071.4,178.2 1064.2,178.2 1056.0,179.7C1047.8,181.2 1038.5,184.1 1029.8,186.3C1021.1,188.4 1012.4,191.1 1003.6,192.8C994.9,194.5 986.2,195.8 977.5,196.7C968.8,197.7 960.0,198.2 951.3,198.6C942.6,198.9 933.9,198.6 925.2,198.6C916.4,198.5 907.7,197.9 899.0,198.0C890.3,198.2 881.5,198.7 872.8,199.3C864.1,200.0 855.4,200.6 846.7,202.0C837.9,203.3 829.2,204.8 820.5,207.2C811.8,209.6 803.1,213.1 794.3,216.3C785.6,219.6 776.2,224.0 768.2,226.8C760.1,229.6 753.5,232.0 745.9,233.4C738.4,234.7 731.2,231.8 723.0,234.7C714.8,237.5 705.5,243.4 696.8,250.4C688.1,257.3 678.1,268.7 670.6,276.5C663.2,284.4 657.1,290.5 652.3,297.5C647.5,304.4 643.6,310.5 641.9,318.4C640.1,326.2 640.6,335.8 641.9,344.5C643.2,353.3 647.5,362.9 649.7,370.7C651.9,378.6 653.9,383.8 654.9,391.6C656.0,399.5 655.4,409.1 656.3,417.8C657.1,426.5 659.1,437.0 660.2,444.0C661.3,451.0 659.7,452.9 662.8,459.9C665.8,467.0 672.8,476.6 678.5,486.2C684.2,495.8 690.3,508.8 696.8,517.6C703.4,526.3 710.2,530.9 717.7,538.5C725.3,546.1 733.6,557.2 742.0,563.4C750.4,569.5 759.4,571.9 768.2,575.1C776.9,578.4 785.6,580.4 794.3,583.0C803.1,585.6 811.8,588.2 820.5,590.8C829.2,593.4 837.9,596.1 846.7,598.7C855.4,601.3 864.1,604.8 872.8,606.5C881.5,608.3 890.3,608.9 899.0,609.1C907.7,609.4 916.4,607.8 925.2,607.8C933.9,607.8 942.6,608.7 951.3,609.1C960.0,609.6 968.8,610.4 977.5,610.4C986.2,610.4 994.9,610.0 1003.6,609.1C1012.4,608.3 1021.1,607.2 1029.8,605.2C1038.5,603.3 1048.4,599.1 1056.0,597.4C1063.5,595.6 1063.1,596.3 1075.0,594.7C1086.9,593.2 1109.9,591.0 1127.3,588.2C1144.8,585.4 1164.4,580.8 1179.7,577.7C1194.9,574.7 1208.0,572.5 1218.9,569.9C1229.8,567.3 1238.5,564.7 1245.1,562.0C1251.6,559.4 1251.6,556.4 1258.2,554.2C1264.7,552.0 1271.2,550.7 1284.3,549.0C1297.4,547.2 1326.9,544.6 1336.6,543.7C1346.4,542.8 1339.4,543.8 1343.1,543.4C1346.7,543.1 1353.4,542.4 1358.6,541.9C1363.8,541.4 1368.9,541.0 1374.1,540.3C1379.3,539.7 1384.0,538.8 1389.6,538.0C1395.3,537.2 1400.4,536.6 1407.9,535.7C1415.4,534.7 1430.1,532.9 1434.5,532.3Z"/>
<path fill="#23ffd4" d="M1434.5,281.0C1430.0,281.1 1416.3,281.6 1407.7,281.8C1399.0,282.1 1392.1,282.3 1382.8,282.6C1373.5,282.9 1364.7,283.9 1351.8,283.4C1338.8,282.9 1320.7,280.8 1305.2,279.5C1289.6,278.2 1274.1,276.9 1258.6,275.6C1243.1,274.3 1225.2,272.2 1212.0,271.7C1198.8,271.2 1193.8,272.9 1179.7,272.6C1165.5,272.3 1144.1,270.9 1127.3,270.0C1110.5,269.1 1090.8,267.9 1078.9,267.4C1067.0,266.8 1064.2,266.6 1056.0,266.6C1047.8,266.6 1038.5,267.0 1029.8,267.4C1021.1,267.7 1012.4,268.0 1003.6,268.7C994.9,269.3 986.2,270.6 977.5,271.3C968.8,271.9 960.0,272.2 951.3,272.6C942.6,273.0 933.9,273.5 925.2,273.9C916.4,274.3 907.7,275.0 899.0,275.2C890.3,275.4 881.5,275.0 872.8,275.2C864.1,275.4 855.4,276.1 846.7,276.5C837.9,277.0 829.2,277.2 820.5,277.8C811.8,278.5 803.1,279.4 794.3,280.4C785.6,281.5 776.2,283.1 768.2,284.4C760.1,285.7 753.5,286.6 745.9,288.3C738.4,290.0 731.2,292.0 723.0,294.8C714.8,297.7 704.2,300.9 696.8,305.3C689.4,309.7 682.2,315.3 678.5,321.0C674.8,326.7 674.6,333.2 674.6,339.3C674.6,345.4 675.2,352.4 678.5,357.6C681.8,362.9 688.5,366.4 694.2,370.7C699.9,375.1 708.8,379.4 712.5,383.8C716.2,388.2 716.9,392.1 716.4,396.9C716.0,401.7 712.5,407.3 709.9,412.6C707.3,417.8 702.7,423.0 700.7,428.3C698.8,433.5 698.3,438.7 698.1,444.0C697.9,449.3 697.5,453.8 699.4,459.9C701.4,466.1 706.0,473.9 709.9,480.9C713.8,487.9 717.0,495.3 723.0,501.9C729.0,508.4 738.5,515.4 746.0,520.2C753.5,525.0 760.1,526.7 768.2,530.6C776.2,534.6 785.6,539.8 794.3,543.7C803.1,547.7 811.8,551.6 820.5,554.2C829.2,556.8 837.9,559.0 846.7,559.4C855.4,559.9 864.1,558.3 872.8,556.8C881.5,555.3 890.3,551.8 899.0,550.3C907.7,548.7 916.4,548.7 925.2,547.7C933.9,546.6 942.6,545.0 951.3,543.7C960.0,542.4 968.8,541.1 977.5,539.8C986.2,538.5 994.9,536.7 1003.6,535.9C1012.4,535.0 1021.1,535.0 1029.8,534.6C1038.5,534.1 1048.4,533.5 1056.0,533.3C1063.5,533.0 1065.7,533.9 1075.0,533.3C1084.3,532.7 1098.0,531.0 1111.9,529.6C1125.8,528.2 1141.1,525.2 1158.6,524.8C1176.1,524.4 1197.4,527.5 1216.8,527.1C1236.2,526.8 1257.6,524.0 1275.0,522.5C1292.5,520.9 1315.5,518.4 1321.6,517.8C1327.8,517.2 1311.0,519.0 1312.0,519.0C1313.0,519.0 1322.4,518.4 1327.5,517.8C1332.7,517.2 1337.9,516.1 1343.1,515.5C1348.2,514.8 1353.4,514.7 1358.6,513.9C1363.8,513.2 1368.9,512.0 1374.1,510.8C1379.3,509.7 1384.0,508.3 1389.6,507.0C1395.3,505.6 1400.4,504.4 1407.9,502.7C1415.4,500.9 1430.1,497.5 1434.5,496.5Z"/>
<path fill="#23ffd4" d="M1074.3,559.4C1076.5,557.2 1082.3,553.3 1088.1,551.6C1093.9,549.8 1103.3,548.1 1109.0,549.0C1114.7,549.8 1119.7,554.4 1122.1,556.8C1124.5,559.2 1126.9,561.6 1123.4,563.4C1119.9,565.1 1109.2,567.1 1101.2,567.3C1093.1,567.5 1079.5,566.0 1075.0,564.7C1070.5,563.4 1072.1,561.6 1074.3,559.4Z"/>
<path fill="#23ffd4" d="M993.2,581.7C993.6,581.0 1000.6,579.0 1003.6,579.0C1006.7,579.0 1011.9,581.0 1011.5,581.7C1011.1,582.3 1004.1,583.0 1001.0,583.0C998.0,583.0 992.7,582.3 993.2,581.7Z"/>
<path fill="#5dff9a" d="M770.8,344.5C774.7,344.3 786.0,343.7 794.3,343.2C802.6,342.8 811.8,342.4 820.5,341.9C829.2,341.5 837.9,341.5 846.7,340.6C855.4,339.8 864.1,338.7 872.8,336.7C881.5,334.7 890.3,331.5 899.0,328.9C907.7,326.2 916.4,323.0 925.2,321.0C933.9,319.0 942.6,318.4 951.3,317.1C960.0,315.8 968.8,314.7 977.5,313.2C986.2,311.6 994.9,309.4 1003.6,307.9C1012.4,306.4 1021.1,305.3 1029.8,304.0C1038.5,302.7 1047.8,300.7 1056.0,300.1C1064.2,299.4 1067.0,299.6 1078.9,300.1C1090.8,300.5 1110.5,301.9 1127.3,302.7C1144.1,303.5 1165.5,304.2 1179.7,304.8C1193.8,305.3 1198.8,305.2 1212.0,305.9C1225.2,306.6 1243.1,308.5 1258.6,309.0C1274.1,309.5 1289.6,309.4 1305.2,309.0C1320.7,308.6 1338.8,307.7 1351.8,306.7C1364.7,305.6 1373.5,303.8 1382.8,302.8C1392.1,301.8 1399.0,301.3 1407.7,300.5C1416.3,299.7 1430.0,298.4 1434.5,297.9L1434.5,443.9C1430.1,447.5 1413.4,461.2 1407.9,465.8C1402.3,470.4 1404.3,468.8 1401.3,471.2C1398.2,473.7 1394.2,477.7 1389.6,480.6C1385.1,483.4 1379.3,486.3 1374.1,488.3C1368.9,490.4 1363.8,491.8 1358.6,493.0C1353.4,494.1 1348.2,494.4 1343.1,495.3C1337.9,496.2 1332.7,497.5 1327.5,498.4C1322.4,499.3 1320.7,498.9 1312.0,500.7C1303.3,502.6 1290.9,507.2 1275.0,509.7C1259.2,512.1 1236.2,513.9 1216.8,515.5C1197.4,517.0 1176.1,518.2 1158.6,519.0C1141.1,519.8 1125.3,521.5 1112.0,520.2C1098.7,518.8 1088.3,512.3 1079.0,511.0C1069.7,509.7 1064.2,511.7 1056.0,512.3C1047.8,513.0 1038.5,514.3 1029.8,514.9C1021.1,515.6 1012.4,515.6 1003.6,516.3C994.9,516.9 986.2,517.8 977.5,518.9C968.8,520.0 960.0,521.3 951.3,522.8C942.6,524.3 933.9,526.3 925.2,528.0C916.4,529.8 907.7,531.7 899.0,533.3C890.3,534.8 881.5,536.7 872.8,537.2C864.1,537.6 855.4,537.3 846.7,535.9C837.9,534.4 827.5,530.6 820.5,528.6C813.5,526.5 810.0,526.2 804.8,523.3C799.6,520.5 794.3,515.5 789.1,511.5C783.9,507.6 778.6,503.6 773.4,499.8C768.2,496.0 762.9,492.3 757.7,488.8C752.5,485.3 745.2,481.9 742.0,478.8C738.8,475.8 740.1,473.6 738.7,470.5C737.2,467.3 734.1,464.4 733.4,460.0C732.8,455.6 733.9,448.4 734.7,444.0C735.6,439.6 735.7,437.0 738.7,433.5C741.6,430.0 748.4,428.3 752.5,423.0C756.5,417.8 760.3,409.1 762.9,402.1C765.5,395.1 767.3,388.2 768.2,381.2C769.0,374.2 768.2,363.7 768.2,360.2Z"/>
<path fill="#9aff5d" d="M770.8,459.9C770.3,458.1 771.2,454.0 773.4,449.2C775.6,444.4 779.5,437.0 783.9,430.9C788.2,424.8 793.5,418.2 799.6,412.6C805.7,406.9 812.6,401.2 820.5,396.9C828.3,392.5 837.9,389.9 846.7,386.4C855.4,382.9 864.1,379.4 872.8,375.9C881.5,372.5 890.3,368.9 899.0,365.5C907.7,362.1 914.3,359.2 925.2,355.6C936.1,352.0 951.3,347.2 964.4,343.7C977.5,340.2 990.6,338.0 1003.6,334.7C1016.7,331.3 1030.3,326.7 1042.9,323.7C1055.5,320.7 1064.9,317.3 1079.0,316.6C1093.1,316.0 1110.6,318.8 1127.3,319.9C1144.1,321.0 1162.2,322.6 1179.7,323.4C1197.1,324.2 1216.9,324.5 1232.0,324.7C1247.0,324.9 1255.9,324.4 1270.0,324.5C1284.1,324.7 1303.0,325.3 1316.6,325.7C1330.2,326.1 1340.7,326.3 1351.8,326.9C1362.8,327.4 1375.6,327.8 1382.8,329.2C1390.1,330.6 1392.6,331.8 1395.2,335.4C1397.8,339.0 1398.1,344.5 1398.3,350.9C1398.6,357.4 1396.5,362.2 1396.8,374.2C1397.0,386.3 1400.1,411.7 1399.9,423.3C1399.6,434.8 1398.1,437.5 1395.2,443.5C1392.4,449.4 1388.8,454.3 1382.8,459.0C1376.9,463.7 1367.3,467.8 1359.5,471.4C1351.8,475.1 1344.0,477.6 1336.2,480.7C1328.5,483.9 1319.4,486.9 1312.9,490.1C1306.5,493.3 1303.7,498.1 1297.4,500.0C1291.1,501.9 1288.5,500.3 1275.0,501.5C1261.6,502.7 1236.2,506.2 1216.8,507.3C1197.4,508.5 1176.1,508.1 1158.6,508.5C1141.1,508.9 1125.3,509.7 1112.0,509.7C1098.7,509.7 1088.3,508.4 1079.0,508.4C1069.7,508.4 1064.2,509.3 1056.0,509.7C1047.8,510.1 1038.5,510.6 1029.8,511.0C1021.1,511.5 1012.4,511.7 1003.6,512.3C994.9,513.0 986.2,514.1 977.5,514.9C968.8,515.8 960.0,516.5 951.3,517.6C942.6,518.7 933.9,520.2 925.2,521.5C916.4,522.8 907.7,524.3 899.0,525.4C890.3,526.5 881.5,528.0 872.8,528.0C864.1,528.0 855.4,528.0 846.7,525.4C837.9,522.8 827.9,517.1 820.5,512.3C813.1,507.5 807.8,502.7 802.2,496.6C796.5,490.5 790.8,481.8 786.5,475.7C782.1,469.6 778.6,462.6 776.0,460.0C773.4,457.4 771.2,461.7 770.8,459.9Z"/>
<path fill="#d4ff23" d="M823.1,459.9C824.9,457.3 825.3,449.8 828.3,444.0C831.4,438.2 836.2,431.1 841.4,425.3C846.7,419.4 852.3,414.1 859.7,408.8C867.2,403.5 877.2,398.0 885.9,393.6C894.6,389.3 903.3,386.5 912.1,382.8C920.8,379.0 929.5,374.7 938.2,371.2C947.0,367.7 953.5,365.0 964.4,361.8C975.3,358.6 990.6,355.2 1003.6,352.0C1016.7,348.8 1030.3,345.3 1042.9,342.6C1055.5,339.9 1064.9,337.6 1079.0,335.8C1093.1,334.0 1110.6,331.9 1127.3,331.5C1144.1,331.2 1162.2,333.3 1179.7,333.5C1197.1,333.8 1216.9,333.0 1232.0,333.0C1247.0,333.0 1258.5,332.9 1270.0,333.5C1281.5,334.1 1290.7,335.4 1301.1,336.6C1311.4,337.7 1323.1,338.9 1332.1,340.5C1341.2,342.0 1349.1,343.6 1355.4,345.9C1361.7,348.2 1367.0,349.7 1370.0,354.4C1373.0,359.2 1372.4,365.8 1373.5,374.2C1374.6,382.7 1375.7,397.1 1376.6,405.3C1377.5,413.5 1380.0,417.2 1378.9,423.3C1377.9,429.4 1374.9,436.2 1370.4,441.9C1365.9,447.6 1358.7,453.3 1351.8,457.5C1344.8,461.6 1336.2,463.9 1328.5,466.8C1320.7,469.6 1312.9,471.7 1305.2,474.5C1297.4,477.4 1294.7,480.1 1281.9,483.9C1269.1,487.6 1247.1,494.3 1228.5,496.9C1209.9,499.4 1189.6,498.6 1170.2,499.2C1150.8,499.8 1127.2,500.6 1112.0,500.4C1096.8,500.1 1090.5,498.1 1079.0,497.9C1067.5,497.8 1055.5,498.6 1042.9,499.2C1030.3,499.9 1016.7,500.8 1003.6,501.9C990.6,503.0 976.6,504.3 964.4,505.8C952.2,507.3 940.4,509.3 930.4,511.0C920.4,512.8 912.9,514.9 904.2,516.3C895.5,517.6 886.8,519.1 878.1,518.9C869.3,518.7 859.7,517.8 851.9,514.9C844.0,512.1 836.2,507.5 831.0,501.9C825.7,496.2 822.7,487.9 820.5,480.9C818.3,474.0 817.4,463.5 817.9,460.0C818.3,456.5 821.4,462.6 823.1,459.9Z"/>
<path fill="#ffdb00" d="M851.9,455.8C854.1,452.0 856.3,442.7 859.7,436.8C863.2,430.9 867.2,425.4 872.8,420.3C878.5,415.2 885.9,410.5 893.8,406.0C901.6,401.5 911.2,397.4 919.9,393.3C928.6,389.2 937.8,385.5 946.1,381.3C954.4,377.0 960.0,371.8 969.6,367.5C979.2,363.3 991.4,359.1 1003.6,355.9C1015.9,352.8 1030.3,350.6 1042.9,348.6C1055.5,346.6 1064.9,345.4 1079.0,343.8C1093.1,342.3 1110.6,339.5 1127.3,339.2C1144.1,339.0 1162.2,341.9 1179.7,342.3C1197.1,342.7 1216.9,341.5 1232.0,341.5C1247.0,341.5 1258.5,341.3 1270.0,342.0C1281.5,342.8 1292.0,344.3 1301.1,345.9C1310.1,347.5 1317.2,349.3 1324.3,351.3C1331.5,353.4 1338.6,355.6 1343.8,358.3C1348.9,361.0 1352.2,362.4 1355.4,367.6C1358.6,372.9 1362.2,381.5 1363.2,390.0C1364.1,398.5 1363.0,411.3 1361.1,418.6C1359.2,426.0 1356.4,429.5 1351.8,434.2C1347.1,438.8 1340.9,443.0 1333.1,446.6C1325.4,450.2 1313.7,452.8 1305.2,455.9C1296.6,459.0 1289.6,462.1 1281.9,465.2C1274.1,468.3 1266.3,471.4 1258.6,474.5C1250.8,477.6 1243.1,481.3 1235.3,483.9C1227.5,486.4 1222.8,488.7 1212.0,490.1C1201.2,491.5 1186.9,491.8 1170.2,492.2C1153.6,492.6 1127.2,492.8 1112.0,492.2C1096.8,491.6 1088.3,489.1 1079.0,488.8C1069.7,488.4 1066.4,489.7 1056.0,490.1C1045.6,490.5 1029.8,491.0 1016.7,491.4C1003.6,491.8 990.6,491.8 977.5,492.7C964.4,493.6 949.1,495.5 938.2,496.6C927.3,497.7 920.4,498.4 912.1,499.2C903.8,500.1 895.9,501.6 888.5,501.9C881.1,502.1 873.7,501.9 867.6,500.6C861.5,499.2 855.8,497.3 851.9,494.0C848.0,490.7 844.9,486.6 844.0,480.9C843.2,475.3 845.4,464.2 846.7,460.0C848.0,455.8 849.7,459.7 851.9,455.8Z"/>
<path fill="#ff9400" d="M917.3,453.9C918.2,451.1 918.6,447.9 919.9,443.0C921.2,438.1 921.7,430.7 925.2,424.4C928.6,418.1 934.3,411.1 940.9,405.1C947.4,399.2 956.1,393.6 964.4,388.6C972.7,383.6 981.8,379.0 990.6,375.0C999.3,371.0 1008.0,367.4 1016.7,364.7C1025.4,361.9 1032.5,360.6 1042.9,358.6C1053.3,356.7 1064.9,354.5 1079.0,352.8C1093.1,351.1 1110.6,348.8 1127.3,348.6C1144.1,348.4 1162.2,350.9 1179.7,351.6C1197.1,352.4 1216.9,353.1 1232.0,352.9C1247.0,352.8 1258.5,350.3 1270.0,350.6C1281.5,350.8 1292.0,352.9 1301.1,354.4C1310.1,356.0 1317.9,357.7 1324.3,359.9C1330.8,362.1 1336.0,362.6 1339.9,367.6C1343.8,372.7 1346.2,383.7 1347.6,390.0C1349.1,396.3 1350.5,399.2 1348.6,405.3C1346.7,411.3 1342.2,421.6 1336.2,426.4C1330.3,431.2 1322.0,431.8 1312.9,434.2C1303.9,436.5 1290.9,437.5 1281.9,440.4C1272.8,443.2 1265.1,447.1 1258.6,451.2C1252.1,455.4 1248.2,460.8 1243.1,465.2C1237.9,469.6 1232.7,474.5 1227.5,477.6C1222.4,480.7 1215.7,483.0 1212.0,483.9C1208.3,484.7 1214.1,482.7 1205.2,482.9C1196.3,483.1 1174.1,484.8 1158.6,485.2C1143.1,485.6 1125.3,485.3 1112.0,485.2C1098.7,485.2 1090.5,484.7 1079.0,484.9C1067.5,485.0 1055.5,485.7 1042.9,486.2C1030.3,486.6 1016.7,487.3 1003.6,487.5C990.6,487.7 975.3,488.1 964.4,487.5C953.5,486.8 945.6,485.5 938.2,483.5C930.8,481.6 923.8,479.6 919.9,475.7C916.0,471.8 915.1,463.6 914.7,460.0C914.3,456.4 916.4,456.7 917.3,453.9Z"/>
<path fill="#ff5200" d="M986.6,455.5C987.9,452.0 990.6,443.7 993.2,439.2C995.8,434.8 1002.3,431.1 1002.3,428.5C1002.3,425.9 996.7,426.0 993.2,423.5C989.7,421.1 983.6,417.0 981.4,413.6C979.2,410.2 978.6,407.1 980.1,403.1C981.6,399.2 984.5,394.2 990.6,389.6C996.7,385.1 1008.0,379.7 1016.7,376.1C1025.4,372.5 1032.5,370.5 1042.9,368.0C1053.3,365.6 1064.9,362.7 1079.0,361.3C1093.1,359.9 1110.6,359.6 1127.3,359.6C1144.1,359.7 1155.9,362.0 1179.7,361.7C1203.4,361.3 1251.1,357.5 1270.0,357.5C1288.9,357.6 1285.5,360.4 1293.3,362.2C1301.1,364.0 1310.1,365.6 1316.6,368.4C1323.1,371.3 1329.1,375.7 1332.1,379.3C1335.1,382.9 1334.5,385.7 1334.4,390.0C1334.3,394.3 1337.7,400.5 1331.6,405.3C1325.4,410.1 1308.3,415.6 1297.4,418.6C1286.5,421.6 1275.9,421.5 1266.3,423.3C1256.8,425.1 1245.6,426.9 1240.0,429.5C1234.3,432.1 1233.7,435.5 1232.2,438.8C1230.6,442.2 1232.4,445.3 1230.6,449.7C1228.8,454.1 1229.4,460.7 1221.3,465.2C1213.2,469.8 1194.3,475.1 1181.9,477.1C1169.5,479.0 1158.6,477.3 1146.9,477.1C1135.3,476.9 1123.3,475.7 1112.0,475.9C1100.7,476.1 1090.5,477.7 1079.0,478.3C1067.5,478.9 1053.3,479.6 1042.9,479.6C1032.5,479.6 1024.1,479.8 1016.7,478.3C1009.3,476.8 1003.6,473.5 998.4,470.5C993.2,467.4 987.3,462.5 985.3,460.0C983.4,457.5 985.3,458.9 986.6,455.5Z"/>
<path fill="#fa0f00" d="M1090.7,382.5C1097.7,380.7 1112.5,376.8 1127.3,374.6C1142.2,372.5 1162.2,370.7 1179.7,369.4C1197.1,368.1 1214.5,366.6 1232.0,366.8C1249.4,367.0 1273.4,369.2 1284.3,370.7C1295.2,372.2 1293.7,373.1 1297.4,375.8C1301.1,378.4 1305.4,383.5 1306.7,386.6C1308.0,389.8 1307.5,391.8 1305.2,394.4C1302.8,397.0 1300.5,400.4 1292.7,402.2C1285.0,404.0 1269.5,404.5 1258.6,405.3C1247.7,406.1 1247.2,407.4 1227.5,406.8C1207.8,406.3 1161.5,404.6 1140.4,402.1C1119.4,399.6 1110.3,394.5 1101.2,391.6C1092.0,388.8 1087.2,386.6 1085.5,385.1C1083.7,383.6 1083.7,384.2 1090.7,382.5Z"/>
<path fill="#fa0f00" d="M1126.0,445.6C1128.7,443.1 1139.6,441.0 1146.9,439.8C1154.3,438.6 1163.2,438.1 1170.2,438.6C1177.2,439.2 1184.6,440.6 1188.9,443.3C1193.1,446.0 1195.9,451.6 1195.9,454.9C1195.9,458.2 1193.1,461.7 1188.9,463.1C1184.6,464.4 1177.2,463.5 1170.2,463.1C1163.2,462.7 1153.5,462.1 1146.9,460.8C1140.3,459.4 1134.1,457.5 1130.6,454.9C1127.1,452.4 1123.3,448.1 1126.0,445.6Z"/>
<use href="#coast"/>
</g>
<rect x="78.5" y="132.5" width="1331.0" height="656.0" fill="none" stroke="#000" stroke-width="3.33"/>
<rect x="78.50" y="831.5" width="95.67" height="66.29999999999995" fill="#0000a8"/>
<rect x="173.57" y="831.5" width="95.67" height="66.29999999999995" fill="#0000fa"/>
<rect x="268.64" y="831.5" width="95.67" height="66.29999999999995" fill="#0034ff"/>
<rect x="363.71" y="831.5" width="95.67" height="66.29999999999995" fill="#0080ff"/>
<rect x="458.79" y="831.5" width="95.67" height="66.29999999999995" fill="#00c8ff"/>
<rect x="553.86" y="831.5" width="95.67" height="66.29999999999995" fill="#23ffd4"/>
<rect x="648.93" y="831.5" width="95.67" height="66.29999999999995" fill="#5dff9a"/>
<rect x="744.00" y="831.5" width="95.67" height="66.29999999999995" fill="#9aff5d"/>
<rect x="839.07" y="831.5" width="95.67" height="66.29999999999995" fill="#d4ff23"/>
<rect x="934.14" y="831.5" width="95.67" height="66.29999999999995" fill="#ffdb00"/>
<rect x="1029.21" y="831.5" width="95.67" height="66.29999999999995" fill="#ff9400"/>
<rect x="1124.29" y="831.5" width="95.67" height="66.29999999999995" fill="#ff5200"/>
<rect x="1219.36" y="831.5" width="95.67" height="66.29999999999995" fill="#fa0f00"/>
<rect x="1314.43" y="831.5" width="95.67" height="66.29999999999995" fill="#a80000"/>
<rect x="78.5" y="831.5" width="1331.0" height="66.29999999999995" fill="none" stroke="#000" stroke-width="3.33"/>
<line x1="78.50" y1="897.8" x2="78.50" y2="912.4" stroke="#000" stroke-width="3.33"/>
<text x="78.50" y="959.2" font-family="&apos;Liberation Sans&apos;, sans-serif" font-size="44.3" text-anchor="middle" textLength="26.51" lengthAdjust="spacingAndGlyphs">0</text>
<line x1="268.64" y1="897.8" x2="268.64" y2="912.4" stroke="#000" stroke-width="3.33"/>
<text x="268.64" y="959.2" font-family="&apos;Liberation Sans&apos;, sans-serif" font-size="44.3" text-anchor="middle" textLength="26.51" lengthAdjust="spacingAndGlyphs">5</text>
<line x1="458.79" y1="897.8" x2="458.79" y2="912.4" stroke="#000" stroke-width="3.33"/>
<text x="458.79" y="959.2" font-family="&apos;Liberation Sans&apos;, sans-serif" font-size="44.3" text-anchor="middle" textLength="53.02" lengthAdjust="spacingAndGlyphs">10</text>
<line x1="648.93" y1="897.8" x2="648.93" y2="912.4" stroke="#000" stroke-width="3.33"/>
<text x="648.93" y="959.2" font-family="&apos;Liberation Sans&apos;, sans-serif" font-size="44.3" text-anchor="middle" textLength="53.02" lengthAdjust="spacingAndGlyphs">15</text>
<line x1="839.07" y1="897.8" x2="839.07" y2="912.4" stroke="#000" stroke-width="3.33"/>
<text x="839.07" y="959.2" font-family="&apos;Liberation Sans&apos;, sans-serif" font-size="44.3" text-anchor="middle" textLength="53.02" lengthAdjust="spacingAndGlyphs">20</text>
<line x1="1029.21" y1="897.8" x2="1029.21" y2="912.4" stroke="#000" stroke-width="3.33"/>
<text x="1029.21" y="959.2" font-family="&apos;Liberation Sans&apos;, sans-serif" font-size="44.3" text-anchor="middle" textLength="53.02" lengthAdjust="spacingAndGlyphs">25</text>
<line x1="1219.36" y1="897.8" x2="1219.36" y2="912.4" stroke="#000" stroke-width="3.33"/>
<text x="1219.36" y="959.2" font-family="&apos;Liberation Sans&apos;, sans-serif" font-size="44.3" text-anchor="middle" textLength="53.02" lengthAdjust="spacingAndGlyphs">30</text>
<line x1="1409.50" y1="897.8" x2="1409.50" y2="912.4" stroke="#000" stroke-width="3.33"/>
<text x="1409.50" y="959.2" font-family="&apos;Liberation Sans&apos;, sans-serif" font-size="44.3" text-anchor="middle" textLength="53.02" lengthAdjust="spacingAndGlyphs">35</text>
</g>
<text x="744" y="1093.2" font-family="&apos;Liberation Sans&apos;, sans-serif" font-size="53" text-anchor="middle" textLength="1225.6" lengthAdjust="spacingAndGlyphs">Ionosphere&#160;&#160;(h=450.0&#160;km),&#160;2006-07-11&#160;08:00&#160;UT</text>
<g transform="translate(0,985.0)">
<g clip-path="url(#mapclip)">
<rect x="78.5" y="132.5" width="1331.0" height="656.0" fill="#0080ff"/>
<path fill="#0034ff" d="M145.3,178.4C149.0,177.2 157.3,172.6 167.6,171.3C177.8,170.0 193.7,170.2 206.8,170.6C219.9,170.9 233.0,172.1 246.1,173.2C259.2,174.3 270.1,176.2 285.3,177.1C300.6,178.0 316.4,178.0 337.6,178.4C358.9,178.8 392.4,179.5 413.0,179.7C433.6,179.9 442.4,179.9 461.3,179.7C480.3,179.5 509.3,177.8 526.7,178.4C544.2,179.1 555.1,181.2 566.0,183.6C576.9,186.0 586.9,188.7 592.2,192.8C597.4,196.9 596.7,203.7 597.4,208.5C598.0,213.3 595.6,216.8 596.1,221.6C596.5,226.4 596.3,232.0 600.0,237.3C603.7,242.5 611.8,247.3 618.3,253.0C624.9,258.6 634.5,265.6 639.2,271.3C644.0,277.0 646.0,280.0 647.1,287.0C648.2,294.0 645.4,304.4 645.8,313.2C646.2,321.9 646.4,331.9 649.7,339.3C653.0,346.7 659.7,352.0 665.4,357.6C671.1,363.3 676.3,369.6 683.7,373.3C691.1,377.0 701.2,377.7 709.9,379.9C718.6,382.1 730.4,383.7 736.1,386.4C741.7,389.1 742.6,392.3 743.9,396.2C745.1,400.2 745.7,403.5 743.9,410.2C742.0,416.9 736.1,429.4 733.0,436.6C729.9,443.9 726.3,445.7 725.2,453.7C724.2,461.7 724.7,476.2 726.8,484.8C728.8,493.3 731.9,499.0 737.6,504.9C743.3,510.9 751.5,514.1 760.9,520.5C770.4,526.8 784.4,537.2 794.3,543.2C804.3,549.2 811.8,553.2 820.5,556.3C829.2,559.3 837.9,560.9 846.7,561.5C855.4,562.2 864.1,561.1 872.8,560.2C881.5,559.3 892.4,555.9 899.0,556.3C905.5,556.7 912.1,560.6 912.1,562.8C912.1,565.0 905.5,567.4 899.0,569.4C892.4,571.3 880.7,571.6 872.8,574.6C865.0,577.7 857.1,582.9 851.9,587.7C846.7,592.5 842.3,598.6 841.4,603.4C840.6,608.2 842.3,612.5 846.7,616.5C851.0,620.4 858.9,625.0 867.6,626.9C876.3,628.9 885.0,628.5 899.0,628.2C912.9,628.0 933.9,625.4 951.3,625.6C968.8,625.8 990.6,629.8 1003.6,629.5C1016.7,629.3 1021.1,627.8 1029.8,624.3C1038.5,620.8 1047.8,612.5 1056.0,608.6C1064.2,604.7 1067.0,602.9 1078.9,600.8C1090.8,598.7 1110.5,597.5 1127.3,596.1C1144.1,594.6 1166.6,594.3 1179.7,592.1C1192.7,590.0 1198.4,586.2 1205.8,583.0C1213.2,579.7 1222.0,575.6 1224.1,572.5C1226.3,569.5 1223.3,567.7 1218.9,564.7C1214.5,561.6 1204.5,557.2 1198.0,554.2C1191.4,551.1 1187.5,549.4 1179.7,546.3C1171.8,543.3 1156.1,539.1 1150.9,535.9C1145.6,532.6 1143.5,529.3 1148.3,526.7C1153.1,524.1 1165.7,522.8 1179.7,520.2C1193.6,517.6 1214.5,514.1 1232.0,511.0C1249.4,508.0 1266.9,505.6 1284.3,501.9C1301.8,498.2 1323.6,493.1 1336.6,488.8C1349.7,484.4 1353.2,480.2 1362.8,475.7C1372.4,471.2 1388.1,467.8 1394.2,462.0C1400.3,456.2 1398.1,448.9 1399.4,441.1C1400.7,433.2 1400.0,423.2 1402.1,414.9C1404.2,406.6 1406.6,400.3 1412.0,391.3C1417.4,382.4 1430.8,366.3 1434.5,361.3L1434.5,815.0C1435.4,815.0 1672.4,815.0 1440.0,815.0C1207.6,815.0 271.1,815.0 40.0,815.0C-191.1,815.0 51.2,815.0 53.5,815.0L53.5,367.4C57.2,364.9 69.6,356.6 76.0,352.4C82.4,348.2 85.2,345.4 91.7,341.9C98.2,338.4 107.0,335.4 115.2,331.5C123.5,327.5 132.7,322.3 141.4,318.4C150.1,314.5 158.9,311.4 167.6,307.9C176.3,304.4 186.8,300.9 193.7,297.5C200.7,294.0 206.6,291.3 209.4,287.0C212.3,282.6 212.5,276.5 210.7,271.3C209.0,266.1 204.0,260.8 199.0,255.6C194.0,250.4 186.3,246.4 180.7,239.9C175.0,233.4 169.8,224.2 165.0,216.3C160.2,208.5 154.1,196.7 151.9,192.8Z"/>
<path fill="#0000fa" d="M53.5,453.0C57.2,450.2 70.5,440.2 76.0,436.1C81.5,432.0 83.4,431.3 86.5,428.3C89.5,425.2 92.6,421.7 94.3,417.8C96.1,413.9 97.6,409.1 96.9,404.7C96.3,400.4 91.3,396.0 90.4,391.6C89.5,387.3 88.4,384.2 91.7,378.6C95.0,372.9 101.7,363.7 110.0,357.6C118.3,351.5 129.6,346.3 141.4,341.9C153.2,337.6 167.6,334.5 180.7,331.5C193.7,328.4 206.8,327.1 219.9,323.6C233.0,320.1 248.7,314.9 259.2,310.5C269.6,306.2 278.8,302.3 282.7,297.5C286.6,292.7 284.0,287.0 282.7,281.8C281.4,276.5 277.9,271.7 274.9,266.1C271.8,260.4 266.6,253.0 264.4,247.7C262.2,242.5 260.0,238.6 261.8,234.7C263.5,230.7 266.6,226.6 274.9,224.2C283.1,221.8 296.7,220.7 311.5,220.3C326.3,219.8 346.9,221.1 363.8,221.6C380.7,222.0 401.1,222.0 413.0,222.9C424.9,223.8 424.9,225.1 435.2,226.8C445.4,228.6 461.3,229.9 474.4,233.4C487.5,236.8 500.6,241.9 513.7,247.7C526.7,253.6 540.7,261.3 552.9,268.7C565.1,276.1 578.6,284.8 586.9,292.2C595.2,299.6 598.3,305.3 602.6,313.2C607.0,321.0 608.3,330.6 613.1,339.3C617.9,348.0 624.0,354.6 631.4,365.5C638.8,376.4 650.6,393.8 657.6,404.7C664.5,415.6 668.0,421.7 673.3,430.9C678.5,440.1 684.6,449.0 689.0,460.0C693.3,471.0 695.9,486.6 699.4,496.6C702.9,506.7 706.0,513.6 709.9,520.2C713.8,526.7 716.3,528.1 723.0,535.9C729.6,543.6 744.9,558.6 749.8,566.8C754.8,575.0 751.2,576.3 752.5,585.1C753.8,593.8 755.1,610.4 757.7,619.1C760.3,627.8 757.7,631.7 768.2,637.4C778.6,643.1 803.1,648.7 820.5,653.1C837.9,657.5 855.4,661.4 872.8,663.6C890.3,665.7 913.8,664.0 925.2,666.2C936.5,668.4 935.6,672.7 940.9,676.6C946.1,680.6 946.1,686.2 956.5,689.7C967.0,693.2 987.1,696.1 1003.6,697.6C1020.2,699.1 1043.4,699.9 1056.0,698.9C1068.5,697.9 1067.0,694.1 1078.9,691.6C1090.8,689.0 1110.5,687.0 1127.3,683.7C1144.1,680.4 1164.4,676.1 1179.7,671.9C1194.9,667.8 1209.3,663.6 1218.9,658.9C1228.5,654.1 1233.9,649.3 1237.2,643.2C1240.5,637.0 1235.9,628.3 1238.5,622.2C1241.1,616.1 1247.0,612.2 1252.9,606.5C1258.8,600.9 1269.5,594.3 1273.9,588.2C1278.2,582.1 1279.1,575.1 1279.1,569.9C1279.1,564.7 1277.3,561.2 1273.9,556.8C1270.4,552.4 1262.1,547.2 1258.2,543.7C1254.2,540.2 1249.4,538.9 1250.3,535.9C1251.2,532.8 1257.7,528.0 1263.4,525.4C1269.1,522.8 1276.5,522.4 1284.3,520.2C1292.2,518.0 1301.8,514.9 1310.5,512.3C1319.2,509.7 1327.9,507.5 1336.6,504.5C1345.4,501.4 1354.1,497.9 1362.8,494.0C1371.5,490.1 1380.8,484.9 1389.0,480.9C1397.2,477.0 1404.4,473.9 1412.0,470.5C1419.6,467.0 1430.8,461.9 1434.5,460.2L1434.5,815.0C1435.4,815.0 1672.4,815.0 1440.0,815.0C1207.6,815.0 271.1,815.0 40.0,815.0C-191.1,815.0 51.2,815.0 53.5,815.0Z"/>
<path fill="#0000a8" d="M474.4,273.9C467.9,273.3 444.3,270.1 435.2,270.0C426.0,269.9 419.5,270.5 419.5,273.4C419.5,276.2 431.2,282.1 435.2,287.0C439.1,291.9 441.7,298.3 443.0,302.7C444.3,307.0 444.3,309.7 443.0,313.2C441.7,316.6 438.9,320.7 435.2,323.6C431.5,326.5 427.1,328.2 420.8,330.7C414.5,333.2 404.8,336.3 397.5,338.5C390.3,340.7 388.5,342.9 377.3,343.9C366.2,344.9 341.1,343.3 330.7,344.7C320.4,346.1 318.3,350.1 315.2,352.5C312.1,354.8 311.3,355.8 312.1,358.7C312.9,361.5 315.7,365.7 319.9,369.5C324.0,373.4 330.5,378.5 337.0,382.0C343.4,385.5 351.2,388.7 358.7,390.5C366.2,392.3 375.5,392.2 382.0,392.8C388.5,393.5 393.9,392.3 397.5,394.4C401.1,396.4 403.7,402.1 403.7,405.2C403.7,408.4 405.0,411.7 397.5,413.0C390.0,414.3 368.8,409.9 358.7,413.0C348.6,416.1 343.2,426.6 337.0,431.6C330.7,436.7 327.6,441.4 321.4,443.3C315.2,445.2 307.7,444.7 299.7,443.3C291.7,441.9 281.6,437.3 273.3,434.8C265.0,432.2 261.1,431.5 250.0,427.8C238.9,424.1 217.5,413.8 206.8,412.6C196.1,411.4 193.3,415.6 185.9,420.4C178.5,425.2 171.9,436.1 162.3,441.4C152.7,446.6 139.2,448.3 128.3,451.8C117.4,455.4 103.9,459.5 96.9,462.6C90.0,465.7 90.0,466.5 86.5,470.5C83.0,474.4 81.5,478.5 76.0,486.2C70.5,493.8 57.2,511.2 53.5,516.2L53.5,565.4C57.2,566.1 67.9,568.3 76.0,569.9C84.1,571.5 85.6,574.0 102.2,575.1C118.7,576.2 158.0,574.7 175.4,576.4C192.9,578.2 195.0,581.2 206.8,585.6C218.6,590.0 233.0,598.5 246.1,602.6C259.2,606.7 270.1,607.8 285.3,610.4C300.6,613.1 322.4,616.6 337.6,618.3C352.9,620.0 364.3,620.5 376.9,620.9C389.5,621.3 401.1,620.7 413.0,620.9C424.9,621.1 435.8,622.0 448.2,622.2C460.7,622.4 474.4,623.3 487.5,622.2C500.6,621.1 511.5,617.0 526.7,615.7C542.0,614.4 564.7,613.9 579.1,614.4C593.5,614.8 603.1,616.3 613.1,618.3C623.1,620.3 631.4,625.5 639.2,626.1C647.1,626.8 654.1,625.1 660.2,622.2C666.3,619.4 669.8,614.4 675.9,609.1C682.0,603.9 692.4,596.9 696.8,590.8C701.2,584.7 702.0,578.6 702.0,572.5C702.0,566.4 699.9,560.7 696.8,554.2C693.8,547.7 687.7,541.1 683.7,533.3C679.8,525.4 676.3,515.8 673.3,507.1C670.2,498.4 668.5,488.8 665.4,480.9C662.4,473.1 658.4,468.3 654.9,460.0C651.5,451.7 648.4,439.7 644.5,430.9C640.6,422.1 635.8,414.8 631.4,407.3C627.0,399.9 624.9,394.3 618.3,386.4C611.8,378.6 600.9,369.8 592.2,360.2C583.4,350.7 574.7,338.0 566.0,328.9C557.3,319.7 548.5,312.3 539.8,305.3C531.1,298.3 518.0,290.0 513.7,287.0Z"/>
<path fill="#0000a8" d="M53.5,620.3C57.2,621.1 63.5,622.3 76.0,624.8C88.5,627.3 110.9,632.5 128.3,635.3C145.8,638.1 163.2,639.4 180.7,641.8C198.1,644.2 215.5,647.1 233.0,649.7C250.4,652.3 267.9,654.9 285.3,657.5C302.8,660.2 320.2,663.2 337.6,665.4C355.1,667.6 377.4,669.3 390.0,670.6C402.5,671.9 401.0,672.2 412.9,673.2C424.8,674.3 444.5,675.9 461.3,677.2C478.1,678.5 498.4,680.0 513.7,681.1C528.9,682.2 539.8,684.4 552.9,683.7C566.0,683.1 581.3,680.0 592.2,677.2C603.1,674.3 610.5,670.6 618.3,666.7C626.2,662.8 632.3,657.2 639.2,653.6C646.2,650.0 650.6,645.2 660.2,645.2C669.8,645.2 686.3,651.1 696.8,653.6C707.3,656.1 714.8,658.2 723.0,660.2C731.2,662.1 738.4,663.1 745.9,665.4C753.5,667.7 760.1,670.4 768.2,674.0C776.2,677.6 785.6,681.9 794.3,687.1C803.1,692.3 811.8,699.8 820.5,705.4C829.2,711.1 833.6,716.8 846.7,721.1C859.7,725.5 881.5,729.2 899.0,731.6C916.4,734.0 933.9,734.4 951.3,735.5C968.8,736.6 982.4,736.1 1003.6,738.1C1024.9,740.2 1062.7,745.1 1078.9,747.8C1095.2,750.5 1091.8,753.9 1101.2,754.4C1110.5,754.8 1127.8,752.6 1135.2,750.4C1142.6,748.2 1147.0,743.9 1145.6,741.3C1144.3,738.7 1133.9,738.0 1127.3,734.7C1120.8,731.5 1108.6,725.1 1106.4,721.6C1104.2,718.2 1106.4,717.3 1114.2,713.8C1122.1,710.3 1138.2,704.2 1153.5,700.7C1168.8,697.2 1188.4,694.6 1205.8,692.9C1223.3,691.1 1240.7,690.9 1258.2,690.2C1275.6,689.6 1298.3,690.7 1310.5,688.9C1322.7,687.2 1327.5,683.9 1331.4,679.8C1335.3,675.6 1334.5,670.2 1334.0,664.1C1333.6,658.0 1329.9,649.3 1328.8,643.2C1327.7,637.0 1326.2,631.8 1327.5,627.5C1328.8,623.1 1330.8,619.6 1336.6,617.0C1342.5,614.4 1354.1,612.2 1362.8,611.8C1371.5,611.3 1380.8,613.5 1389.0,614.4C1397.2,615.2 1404.4,616.1 1412.0,617.0C1419.6,617.8 1430.8,619.1 1434.5,619.5L1434.5,815.0C1435.4,815.0 1672.4,815.0 1440.0,815.0C1207.6,815.0 271.1,815.0 40.0,815.0C-191.1,815.0 51.2,815.0 53.5,815.0Z"/>
<path fill="#0000a8" d="M1434.5,504.2C1430.8,506.4 1420.9,512.3 1412.0,517.6C1403.1,522.8 1385.0,531.1 1381.1,535.9C1377.3,540.7 1383.8,542.9 1389.0,546.3C1394.1,549.8 1404.4,553.4 1412.0,556.8C1419.6,560.3 1430.8,565.3 1434.5,567.0Z"/>
<path fill="#00c8ff" d="M969.6,587.7C971.8,584.2 982.7,579.4 990.6,577.2C998.4,575.0 1008.0,573.7 1016.7,574.6C1025.4,575.5 1039.8,579.0 1042.9,582.5C1045.9,585.9 1041.6,592.3 1035.0,595.5C1028.5,598.8 1013.2,601.6 1003.6,602.1C994.1,602.5 983.2,600.6 977.5,598.2C971.8,595.8 967.5,591.2 969.6,587.7Z"/>
<path fill="#0034ff" d="M1001.0,543.2C1001.9,541.2 1011.1,536.4 1019.3,535.4C1027.6,534.3 1047.3,534.9 1050.7,536.7C1054.2,538.4 1046.4,544.1 1040.3,545.8C1034.2,547.6 1020.7,547.6 1014.1,547.1C1007.6,546.7 1000.2,545.2 1001.0,543.2Z"/>
<path fill="#00c8ff" d="M53.5,288.4C57.2,288.6 68.3,289.2 76.0,289.6C83.7,290.0 94.5,288.9 99.5,290.9C104.6,292.9 106.1,297.7 106.1,301.4C106.1,305.1 102.8,309.4 99.5,313.2C96.3,316.9 90.4,321.0 86.5,323.6C82.5,326.2 81.5,326.1 76.0,328.9C70.5,331.6 57.2,338.2 53.5,340.1Z"/>
<path fill="#00c8ff" d="M1069.1,187.0C1074.0,184.7 1089.3,179.6 1101.2,178.4C1113.1,177.2 1129.1,178.2 1140.4,179.7C1151.7,181.2 1169.2,184.9 1169.2,187.6C1169.2,190.2 1151.7,193.7 1140.4,195.4C1129.1,197.2 1112.6,198.6 1101.2,198.0C1089.7,197.5 1077.0,194.1 1071.7,192.3C1066.3,190.4 1064.1,189.4 1069.1,187.0Z"/>
<path fill="#00c8ff" d="M689.0,339.3C688.1,336.7 682.4,329.7 683.7,323.6C685.0,317.5 690.3,309.7 696.8,302.7C703.4,295.7 714.8,287.0 723.0,281.8C731.2,276.5 740.2,279.1 746.0,271.3C751.8,263.4 751.8,242.9 757.7,234.7C763.6,226.4 770.8,225.5 781.2,221.6C791.7,217.7 805.2,213.5 820.5,211.1C835.8,208.7 857.6,207.6 872.8,207.2C888.1,206.7 900.7,207.0 912.1,208.5C923.4,210.0 937.8,212.0 940.9,216.3C943.9,220.7 935.2,229.0 930.4,234.7C925.6,240.3 915.6,245.6 912.1,250.4C908.6,255.2 907.3,259.5 909.5,263.4C911.6,267.4 916.0,271.1 925.2,273.9C934.3,276.7 951.3,280.7 964.4,280.4C977.5,280.2 992.7,274.8 1003.6,272.6C1014.5,270.4 1021.1,268.5 1029.8,267.4C1038.5,266.3 1047.8,265.8 1056.0,266.1C1064.2,266.3 1067.0,267.6 1078.9,268.7C1090.8,269.8 1110.5,271.3 1127.3,272.6C1144.1,273.9 1166.1,275.0 1179.7,276.5C1193.2,278.0 1202.8,279.1 1208.4,281.8C1214.1,284.4 1209.7,288.5 1213.7,292.2C1217.6,295.9 1224.6,300.9 1232.0,304.0C1239.4,307.0 1247.3,309.0 1258.2,310.5C1269.1,312.1 1284.3,313.8 1297.4,313.2C1310.5,312.5 1323.6,309.2 1336.6,306.6C1349.7,304.0 1363.3,300.1 1375.9,297.5C1388.5,294.8 1402.2,292.7 1412.0,290.9C1421.8,289.1 1430.8,287.5 1434.5,286.8L1434.5,320.3C1430.8,323.4 1417.8,334.1 1412.0,339.0C1406.2,343.9 1402.8,344.2 1399.4,349.5C1396.0,354.7 1393.3,362.6 1391.6,370.4C1389.8,378.3 1389.0,387.9 1389.0,396.6C1389.0,405.3 1392.5,414.0 1391.6,422.7C1390.7,431.5 1388.5,441.5 1383.7,448.9C1378.9,456.3 1370.7,462.9 1362.8,467.2C1355.0,471.6 1341.0,474.5 1336.6,475.1C1332.3,475.6 1345.4,468.6 1336.6,470.5C1327.9,472.3 1301.8,481.4 1284.3,486.2C1266.9,491.0 1249.4,496.0 1232.0,499.2C1214.5,502.5 1197.1,504.0 1179.7,505.8C1162.2,507.5 1144.1,508.2 1127.3,509.7C1110.5,511.2 1093.0,513.5 1078.9,514.9C1064.9,516.4 1055.4,516.7 1042.9,518.4C1030.3,520.0 1018.9,522.5 1003.6,524.9C988.4,527.3 966.6,531.2 951.3,532.7C936.1,534.3 923.0,533.6 912.1,534.0C901.2,534.5 894.6,534.5 885.9,535.4C877.2,536.2 868.5,539.3 859.7,539.3C851.0,539.3 842.3,537.8 833.6,535.4C824.9,533.0 814.8,529.3 807.4,524.9C800.0,520.5 794.3,515.7 789.1,509.2C783.9,502.7 779.7,493.9 776.0,485.6C772.3,477.4 767.7,467.8 766.9,459.5C766.0,451.2 766.2,442.9 770.8,435.9C775.4,429.0 789.1,423.9 794.3,417.8C799.6,411.7 800.7,406.0 802.2,399.5C803.7,393.0 805.7,384.2 803.5,378.6C801.3,372.9 795.9,369.0 789.1,365.5C782.3,362.0 770.1,359.4 762.9,357.6C755.7,355.9 750.1,355.3 745.9,355.0C741.7,354.7 746.0,357.5 737.6,355.9C729.3,354.2 702.7,346.8 695.7,345.0Z"/>
<path fill="#23ffd4" d="M851.9,412.6C859.3,407.6 873.7,392.3 885.9,385.1C898.1,377.9 909.9,374.9 925.2,369.4C940.4,364.0 960.0,357.9 977.5,352.4C994.9,346.9 1012.9,341.5 1029.8,336.7C1046.7,331.9 1070.8,325.8 1079.0,323.6C1087.2,321.4 1066.5,323.8 1078.9,323.3C1091.3,322.8 1128.0,320.5 1153.5,320.7C1179.0,320.9 1210.2,322.9 1232.0,324.6C1253.8,326.4 1269.1,329.2 1284.3,331.2C1299.6,333.1 1312.7,334.2 1323.6,336.4C1334.5,338.6 1342.8,340.8 1349.7,344.2C1356.7,347.7 1361.5,350.8 1365.4,357.3C1369.4,363.9 1371.5,374.8 1373.3,383.5C1375.0,392.2 1376.3,400.9 1375.9,409.7C1375.5,418.4 1373.7,428.0 1370.7,435.8C1367.6,443.7 1367.6,452.7 1357.6,456.8C1347.5,460.8 1322.7,456.8 1310.5,460.0C1298.3,463.2 1293.4,472.2 1284.3,475.7C1275.3,479.2 1264.8,478.7 1256.2,481.2C1247.6,483.6 1242.6,487.8 1232.9,490.5C1223.2,493.2 1213.5,495.9 1198.0,497.5C1182.5,499.0 1161.1,499.2 1139.8,499.8C1118.4,500.4 1093.2,500.6 1069.9,501.0C1046.6,501.4 1011.0,500.6 1000.0,502.1C989.0,503.7 1009.6,508.7 1003.6,510.5C997.7,512.3 977.5,512.0 964.4,513.1C951.3,514.2 936.1,516.0 925.2,517.0C914.3,518.1 908.6,518.8 899.0,519.7C889.4,520.5 877.6,522.3 867.6,522.3C857.6,522.3 846.7,522.3 838.8,519.7C831.0,517.0 824.9,511.8 820.5,506.6C816.1,501.3 813.5,494.8 812.6,488.3C811.8,481.7 813.1,474.7 815.3,467.3C817.4,459.9 821.4,452.5 825.7,443.8C830.1,435.1 837.1,420.2 841.4,415.0C845.8,409.8 844.5,417.6 851.9,412.6Z"/>
<path fill="#5dff9a" d="M912.1,402.1C924.3,396.3 938.2,386.8 951.3,379.9C964.4,372.9 977.5,365.0 990.6,360.2C1003.6,355.5 1015.1,354.1 1029.8,351.1C1044.5,348.0 1070.8,344.2 1079.0,341.9C1087.2,339.7 1066.5,339.1 1078.9,337.7C1091.3,336.3 1128.0,333.8 1153.5,333.8C1179.0,333.8 1210.2,336.0 1232.0,337.7C1253.8,339.5 1269.1,341.8 1284.3,344.2C1299.6,346.6 1313.1,348.6 1323.6,352.1C1334.0,355.6 1341.4,359.9 1347.1,365.2C1352.8,370.4 1355.4,376.1 1357.6,383.5C1359.8,390.9 1361.1,401.8 1360.2,409.7C1359.3,417.5 1356.3,424.5 1352.3,430.6C1348.4,436.7 1345.4,442.1 1336.6,446.3C1327.9,450.5 1313.4,452.5 1300.0,455.6C1286.6,458.7 1267.4,461.4 1256.2,464.9C1245.0,468.4 1242.6,472.3 1232.9,476.5C1223.2,480.8 1213.5,487.6 1198.0,490.5C1182.5,493.4 1161.1,493.6 1139.8,494.0C1118.4,494.4 1093.2,492.6 1069.9,492.8C1046.6,493.0 1002.3,495.0 1000.0,495.2C997.7,495.3 1055.4,493.3 1056.0,493.5C1056.6,493.7 1021.1,495.0 1003.6,496.1C986.2,497.2 964.4,498.7 951.3,500.0C938.2,501.3 933.9,502.9 925.2,504.0C916.4,505.0 907.7,505.9 899.0,506.6C890.3,507.2 880.7,508.8 872.8,507.9C865.0,507.0 857.6,504.6 851.9,501.3C846.2,498.1 840.6,493.9 838.8,488.3C837.1,482.6 837.9,475.2 841.4,467.3C844.9,459.5 853.6,449.9 859.7,441.2C865.8,432.4 869.3,421.5 878.1,415.0C886.8,408.5 899.9,408.0 912.1,402.1Z"/>
<path fill="#9aff5d" d="M946.1,412.6C953.5,407.6 967.9,392.1 977.5,385.1C987.1,378.1 992.7,374.3 1003.6,370.7C1014.5,367.1 1030.3,365.4 1042.9,363.6C1055.5,361.9 1073.0,362.6 1079.0,360.2C1085.0,357.9 1066.5,351.7 1078.9,349.5C1091.3,347.2 1128.0,346.9 1153.5,346.9C1179.0,346.9 1210.2,348.2 1232.0,349.5C1253.8,350.8 1269.9,352.5 1284.3,354.7C1298.7,356.9 1309.2,358.6 1318.3,362.6C1327.5,366.5 1334.5,372.6 1339.3,378.3C1344.1,383.9 1346.7,390.0 1347.1,396.6C1347.5,403.1 1345.8,411.8 1341.9,417.5C1338.0,423.2 1330.5,426.6 1323.6,430.6C1316.6,434.6 1311.2,439.4 1300.0,441.6C1288.8,443.8 1267.4,441.6 1256.2,443.9C1245.0,446.2 1238.7,450.5 1232.9,455.6C1227.1,460.6 1229.0,469.1 1221.3,474.2C1213.5,479.2 1199.9,483.5 1186.3,485.8C1172.7,488.2 1159.2,488.2 1139.8,488.2C1120.3,488.2 1093.2,485.8 1069.9,485.8C1046.6,485.8 1002.3,487.8 1000.0,488.2C997.7,488.6 1055.4,487.8 1056.0,488.3C1056.6,488.7 1021.1,490.2 1003.6,490.9C986.2,491.5 964.4,492.6 951.3,492.2C938.2,491.7 931.7,490.2 925.2,488.3C918.6,486.3 914.7,483.9 912.1,480.4C909.5,476.9 907.7,473.9 909.5,467.3C911.2,460.8 918.6,449.9 922.5,441.2C926.5,432.4 929.1,419.8 933.0,415.0C936.9,410.2 938.7,417.6 946.1,412.6Z"/>
<path fill="#d4ff23" d="M987.9,403.4C990.6,400.1 996.7,392.7 1003.6,389.0C1010.6,385.3 1021.1,383.4 1029.8,381.2C1038.5,379.0 1047.8,379.5 1056.0,375.9C1064.2,372.4 1062.7,363.3 1078.9,359.9C1095.2,356.6 1128.0,356.5 1153.5,356.0C1179.0,355.6 1210.2,356.0 1232.0,357.3C1253.8,358.6 1269.9,361.3 1284.3,363.9C1298.7,366.5 1310.0,368.4 1318.3,373.0C1326.6,377.6 1331.4,385.2 1334.0,391.3C1336.6,397.4 1335.8,404.9 1334.0,409.7C1332.3,414.5 1336.5,417.1 1323.6,420.1C1310.6,423.1 1271.3,424.0 1256.2,427.6C1241.1,431.2 1240.7,435.4 1232.9,441.6C1225.2,447.8 1217.4,459.1 1209.6,464.9C1201.9,470.7 1198.0,474.0 1186.3,476.5C1174.7,479.0 1159.2,480.0 1139.8,480.0C1120.3,480.0 1093.2,476.7 1069.9,476.5C1046.6,476.3 1006.7,478.6 1000.0,478.9C993.3,479.1 1031.4,478.6 1029.8,477.8C1028.2,477.0 1000.2,476.1 990.6,473.9C981.0,471.7 972.2,468.4 972.2,464.7C972.2,461.0 981.0,455.1 990.6,451.6C1000.2,448.1 1012.7,445.5 1029.8,443.8C1046.9,442.1 1077.9,442.3 1093.2,441.6C1108.4,440.8 1114.9,442.0 1121.1,439.3C1127.3,436.5 1130.4,429.5 1130.4,425.3C1130.4,421.0 1125.4,416.7 1121.1,413.6C1116.8,410.5 1113.4,407.8 1104.8,406.6C1096.3,405.5 1081.5,406.5 1069.9,406.6C1058.2,406.8 1046.6,406.8 1034.9,407.8C1023.3,408.8 1007.8,412.3 1000.0,412.5C992.2,412.6 990.0,410.2 987.9,408.7C985.9,407.1 985.3,406.7 987.9,403.4Z"/>
<path fill="#ffdb00" d="M1114.2,375.6C1118.6,371.9 1138.2,368.4 1153.5,366.5C1168.8,364.5 1188.4,363.9 1205.8,363.9C1223.3,363.9 1242.9,364.5 1258.2,366.5C1273.4,368.4 1288.5,371.9 1297.4,375.6C1306.3,379.4 1310.5,384.8 1311.8,388.7C1313.1,392.7 1312.0,396.4 1305.2,399.2C1298.5,402.0 1287.8,404.6 1271.2,405.7C1254.7,406.8 1223.3,407.0 1205.8,405.7C1188.4,404.4 1179.7,400.7 1166.6,397.9C1153.5,395.0 1136.1,392.4 1127.3,388.7C1118.6,385.0 1109.9,379.4 1114.2,375.6Z"/>
<use href="#coast"/>
</g>
<rect x="78.5" y="132.5" width="1331.0" height="656.0" fill="none" stroke="#000" stroke-width="3.33"/>
<rect x="78.50" y="831.5" width="95.67" height="66.29999999999995" fill="#0000a8"/>
<rect x="173.57" y="831.5" width="95.67" height="66.29999999999995" fill="#0000fa"/>
<rect x="268.64" y="831.5" width="95.67" height="66.29999999999995" fill="#0034ff"/>
<rect x="363.71" y="831.5" width="95.67" height="66.29999999999995" fill="#0080ff"/>
<rect x="458.79" y="831.5" width="95.67" height="66.29999999999995" fill="#00c8ff"/>
<rect x="553.86" y="831.5" width="95.67" height="66.29999999999995" fill="#23ffd4"/>
<rect x="648.93" y="831.5" width="95.67" height="66.29999999999995" fill="#5dff9a"/>
<rect x="744.00" y="831.5" width="95.67" height="66.29999999999995" fill="#9aff5d"/>
<rect x="839.07" y="831.5" width="95.67" height="66.29999999999995" fill="#d4ff23"/>
<rect x="934.14" y="831.5" width="95.67" height="66.29999999999995" fill="#ffdb00"/>
<rect x="1029.21" y="831.5" width="95.67" height="66.29999999999995" fill="#ff9400"/>
<rect x="1124.29" y="831.5" width="95.67" height="66.29999999999995" fill="#ff5200"/>
<rect x="1219.36" y="831.5" width="95.67" height="66.29999999999995" fill="#fa0f00"/>
<rect x="1314.43" y="831.5" width="95.67" height="66.29999999999995" fill="#a80000"/>
<rect x="78.5" y="831.5" width="1331.0" height="66.29999999999995" fill="none" stroke="#000" stroke-width="3.33"/>
<line x1="78.50" y1="897.8" x2="78.50" y2="912.4" stroke="#000" stroke-width="3.33"/>
<text x="78.50" y="959.2" font-family="&apos;Liberation Sans&apos;, sans-serif" font-size="44.3" text-anchor="middle" textLength="26.51" lengthAdjust="spacingAndGlyphs">0</text>
<line x1="268.64" y1="897.8" x2="268.64" y2="912.4" stroke="#000" stroke-width="3.33"/>
<text x="268.64" y="959.2" font-family="&apos;Liberation Sans&apos;, sans-serif" font-size="44.3" text-anchor="middle" textLength="26.51" lengthAdjust="spacingAndGlyphs">5</text>
<line x1="458.79" y1="897.8" x2="458.79" y2="912.4" stroke="#000" stroke-width="3.33"/>
<text x="458.79" y="959.2" font-family="&apos;Liberation Sans&apos;, sans-serif" font-size="44.3" text-anchor="middle" textLength="53.02" lengthAdjust="spacingAndGlyphs">10</text>
<line x1="648.93" y1="897.8" x2="648.93" y2="912.4" stroke="#000" stroke-width="3.33"/>
<text x="648.93" y="959.2" font-family="&apos;Liberation Sans&apos;, sans-serif" font-size="44.3" text-anchor="middle" textLength="53.02" lengthAdjust="spacingAndGlyphs">15</text>
<line x1="839.07" y1="897.8" x2="839.07" y2="912.4" stroke="#000" stroke-width="3.33"/>
<text x="839.07" y="959.2" font-family="&apos;Liberation Sans&apos;, sans-serif" font-size="44.3" text-anchor="middle" textLength="53.02" lengthAdjust="spacingAndGlyphs">20</text>
<line x1="1029.21" y1="897.8" x2="1029.21" y2="912.4" stroke="#000" stroke-width="3.33"/>
<text x="1029.21" y="959.2" font-family="&apos;Liberation Sans&apos;, sans-serif" font-size="44.3" text-anchor="middle" textLength="53.02" lengthAdjust="spacingAndGlyphs">25</text>
<line x1="1219.36" y1="897.8" x2="1219.36" y2="912.4" stroke="#000" stroke-width="3.33"/>
<text x="1219.36" y="959.2" font-family="&apos;Liberation Sans&apos;, sans-serif" font-size="44.3" text-anchor="middle" textLength="53.02" lengthAdjust="spacingAndGlyphs">30</text>
<line x1="1409.50" y1="897.8" x2="1409.50" y2="912.4" stroke="#000" stroke-width="3.33"/>
<text x="1409.50" y="959.2" font-family="&apos;Liberation Sans&apos;, sans-serif" font-size="44.3" text-anchor="middle" textLength="53.02" lengthAdjust="spacingAndGlyphs">35</text>
</g>
<text x="744" y="2078.2" font-family="&apos;Liberation Sans&apos;, sans-serif" font-size="53" text-anchor="middle" textLength="1314.0" lengthAdjust="spacingAndGlyphs">Plasmasphere&#160;(h=1500.0&#160;km),&#160;2006-07-11&#160;08:00&#160;UT</text>
<g transform="translate(0,1970.0)">
<g clip-path="url(#mapclip)">
<rect x="78.5" y="132.5" width="1331.0" height="656.0" fill="#0000ff"/>
<path fill="#16ffe1" d="M53.5,270.0C57.2,271.0 63.6,272.5 76.0,275.7C88.4,278.8 110.7,284.8 128.0,288.7C145.4,292.6 162.7,296.0 180.0,299.1C197.4,302.1 214.7,304.5 232.1,306.9C249.4,309.2 266.7,311.6 284.1,313.1C301.4,314.6 318.8,315.4 336.1,315.7C353.4,316.0 370.8,315.3 388.1,314.7C405.5,314.1 422.8,313.1 440.1,312.1C457.5,311.0 474.8,308.6 492.1,308.4C509.5,308.3 526.8,309.6 544.2,311.0C561.5,312.5 578.8,315.6 596.2,317.3C613.5,318.9 630.9,321.2 648.2,320.9C665.5,320.6 684.6,317.6 700.2,315.7C715.9,313.8 726.4,311.8 742.0,309.5C757.6,307.1 776.7,305.1 794.0,301.7C811.4,298.2 828.7,292.1 846.0,288.7C863.4,285.2 880.7,283.5 898.1,280.9C915.4,278.3 932.7,275.0 950.1,273.1C967.4,271.1 984.8,269.8 1002.1,268.9C1019.4,268.0 1036.8,268.0 1054.1,267.8C1071.5,267.7 1088.8,267.6 1106.1,267.8C1123.5,268.1 1140.8,269.0 1158.1,269.4C1175.5,269.8 1192.8,270.1 1210.2,270.5C1227.5,270.8 1244.8,271.1 1262.2,271.5C1279.5,271.9 1296.9,272.8 1314.2,273.1C1331.5,273.3 1349.9,273.3 1366.2,273.1C1382.5,272.8 1400.6,271.9 1412.0,271.5C1423.4,271.1 1430.8,270.9 1434.5,270.7L1434.5,611.6C1430.8,611.0 1423.4,609.9 1412.0,608.3C1400.6,606.6 1382.5,604.1 1366.2,601.5C1349.9,598.9 1331.5,596.7 1314.2,592.6C1296.9,588.6 1279.5,581.4 1262.2,577.0C1244.8,572.7 1223.2,569.0 1210.2,566.6C1197.2,564.3 1192.8,563.4 1184.2,563.0C1175.5,562.6 1171.2,562.8 1158.1,564.0C1145.1,565.3 1123.5,568.5 1106.1,570.3C1088.8,572.0 1071.5,572.9 1054.1,574.4C1036.8,576.0 1019.4,577.9 1002.1,579.6C984.8,581.4 967.4,582.7 950.1,584.8C932.7,587.0 915.4,590.0 898.1,592.6C880.7,595.2 863.4,597.4 846.0,600.5C828.7,603.5 811.4,606.1 794.0,610.9C776.7,615.6 757.6,625.2 742.0,629.1C726.4,633.0 715.9,633.1 700.2,634.3C684.6,635.4 665.5,635.0 648.2,635.8C630.9,636.7 613.5,637.4 596.2,639.5C578.8,641.5 561.5,646.1 544.2,648.3C526.8,650.5 509.5,651.8 492.1,652.5C474.8,653.2 457.5,652.5 440.1,652.5C422.8,652.5 405.5,652.6 388.1,652.5C370.8,652.3 353.4,652.7 336.1,651.4C318.8,650.1 301.4,647.3 284.1,644.7C266.7,642.1 249.4,638.7 232.1,635.8C214.7,633.0 197.4,629.8 180.0,627.5C162.7,625.2 145.4,624.4 128.0,622.3C110.7,620.2 88.4,616.8 76.0,615.0C63.6,613.3 57.2,612.4 53.5,611.9Z"/>
<path fill="#e4ff13" d="M53.5,306.1C57.2,306.7 63.6,307.6 76.0,309.5C88.4,311.3 110.7,314.2 128.0,317.3C145.4,320.3 162.7,324.4 180.0,327.7C197.4,331.0 214.7,334.4 232.1,337.0C249.4,339.6 266.7,341.4 284.1,343.3C301.4,345.2 318.8,346.9 336.1,348.5C353.4,350.0 370.8,350.9 388.1,352.6C405.5,354.4 422.8,356.5 440.1,358.9C457.5,361.2 474.8,363.9 492.1,366.7C509.5,369.5 526.8,372.5 544.2,375.5C561.5,378.6 578.8,382.6 596.2,384.9C613.5,387.1 632.6,389.2 648.2,389.1C663.8,388.9 674.2,388.0 689.8,383.9C705.5,379.7 724.6,368.9 742.0,364.1C759.4,359.2 776.7,358.0 794.0,354.7C811.4,351.4 828.7,347.8 846.0,344.3C863.4,340.8 880.7,337.6 898.1,333.9C915.4,330.3 932.7,325.9 950.1,322.5C967.4,319.0 984.8,315.1 1002.1,313.1C1019.4,311.1 1036.8,310.7 1054.1,310.5C1071.5,310.3 1088.8,310.8 1106.1,312.1C1123.5,313.4 1145.1,317.0 1158.1,318.3C1171.2,319.6 1175.5,320.7 1184.2,319.9C1192.8,319.0 1197.2,315.0 1210.2,313.1C1223.2,311.2 1244.8,309.5 1262.2,308.4C1279.5,307.4 1296.9,307.1 1314.2,306.9C1331.5,306.6 1349.9,306.7 1366.2,306.9C1382.5,307.0 1400.6,307.6 1412.0,307.9C1423.4,308.2 1430.8,308.3 1434.5,308.4L1434.5,574.4C1430.8,574.0 1423.4,573.1 1412.0,571.8C1400.6,570.5 1382.5,569.2 1366.2,566.6C1349.9,564.0 1331.5,560.1 1314.2,556.2C1296.9,552.3 1279.5,547.6 1262.2,543.2C1244.8,538.9 1227.5,533.5 1210.2,530.2C1192.8,526.9 1175.5,524.9 1158.1,523.5C1140.8,522.0 1123.5,521.6 1106.1,521.4C1088.8,521.2 1071.5,521.8 1054.1,522.4C1036.8,523.0 1019.4,523.7 1002.1,525.0C984.8,526.3 967.4,528.1 950.1,530.2C932.7,532.4 915.4,535.0 898.1,538.0C880.7,541.1 863.4,545.4 846.0,548.4C828.7,551.5 811.4,552.8 794.0,556.2C776.7,559.7 757.6,564.6 742.0,569.2C726.4,573.8 715.9,580.8 700.2,583.8C684.6,586.8 665.5,586.0 648.2,587.4C630.9,588.9 613.5,589.8 596.2,592.6C578.8,595.5 561.5,601.6 544.2,604.6C526.8,607.6 509.5,609.8 492.1,610.9C474.8,611.9 457.5,610.7 440.1,610.9C422.8,611.0 405.5,611.9 388.1,611.9C370.8,611.9 353.4,611.9 336.1,610.9C318.8,609.8 301.4,607.8 284.1,605.7C266.7,603.5 249.4,600.3 232.1,597.8C214.7,595.4 197.4,593.3 180.0,591.1C162.7,588.9 145.4,586.9 128.0,584.8C110.7,582.8 88.4,580.1 76.0,578.6C63.6,577.1 57.2,576.4 53.5,575.9Z"/>
<path fill="#ff1e00" d="M53.5,347.5C57.9,347.8 70.8,348.6 79.7,349.3C88.7,349.9 97.3,349.9 107.1,351.1C116.8,352.3 127.8,354.2 138.1,356.4C148.5,358.6 158.8,361.3 169.2,364.2C179.5,367.0 189.9,370.4 200.2,373.5C210.6,376.6 220.9,379.4 231.3,382.8C241.6,386.2 253.0,390.3 262.3,393.7C271.7,397.0 279.9,400.5 287.2,403.0C294.4,405.4 299.6,407.2 305.8,408.3C312.0,409.3 316.2,408.8 324.4,409.2C332.7,409.6 347.2,409.7 355.5,410.7C363.8,411.8 368.4,413.1 374.1,415.4C379.8,417.7 385.3,421.4 389.7,424.7C394.1,428.1 397.9,432.0 400.5,435.6C403.1,439.2 404.9,443.4 405.2,446.5C405.5,449.6 404.7,452.2 402.1,454.2C399.5,456.3 394.3,458.1 389.7,458.9C385.0,459.7 379.8,459.7 374.1,458.9C368.4,458.1 361.7,456.0 355.5,454.2C349.3,452.4 342.6,449.8 336.9,448.0C331.2,446.2 327.0,444.1 321.3,443.4C315.6,442.6 307.9,442.3 302.7,443.4C297.5,444.4 293.9,446.7 290.3,449.6C286.7,452.4 283.3,456.0 281.0,460.4C278.6,464.8 277.3,470.3 276.3,476.0C275.3,481.7 275.3,488.4 274.8,494.6C274.2,500.8 274.8,508.1 273.2,513.2C271.7,518.4 269.3,522.0 265.4,525.7C261.6,529.3 256.6,532.6 249.9,535.0C243.2,537.3 234.4,538.3 225.1,539.6C215.8,540.9 205.9,542.1 194.0,542.7C182.1,543.4 165.5,543.5 153.6,543.7C141.7,543.8 132.4,543.9 122.6,543.7C112.7,543.4 101.8,542.5 94.6,542.1C87.5,541.7 86.6,541.6 79.7,541.2C72.9,540.8 57.9,539.8 53.5,539.5Z"/>
<path fill="#ff1e00" d="M1434.5,539.4C1430.8,539.1 1423.4,538.7 1412.0,538.1C1400.6,537.4 1382.5,536.8 1366.2,535.5C1349.9,534.2 1327.2,532.9 1314.2,530.3C1301.2,527.7 1296.9,523.8 1288.2,519.9C1279.5,516.0 1270.9,511.2 1262.2,506.9C1253.5,502.5 1244.8,497.3 1236.2,493.9C1227.5,490.4 1223.2,488.2 1210.2,486.1C1197.2,483.9 1175.5,482.2 1158.1,480.9C1140.8,479.6 1123.5,480.0 1106.1,478.3C1088.8,476.5 1069.7,473.7 1054.1,470.5C1038.5,467.2 1024.6,462.5 1012.5,459.0C1000.4,455.5 990.0,451.9 981.3,449.6C972.6,447.4 968.3,445.9 960.5,445.5C952.7,445.0 944.9,444.6 934.5,447.0C924.1,449.5 910.2,456.3 898.1,460.0C885.9,463.8 874.6,468.5 861.6,469.4C848.6,470.3 832.2,468.1 820.0,465.2C807.9,462.4 796.6,456.6 788.8,452.2C781.0,447.9 776.2,443.6 773.2,439.2C770.2,434.9 768.9,430.6 770.6,426.2C772.3,421.9 777.1,417.1 783.6,413.2C790.1,409.3 799.2,405.9 809.6,402.8C820.0,399.8 833.0,396.9 846.0,395.0C859.0,393.1 874.6,391.8 887.7,391.4C900.7,390.9 911.9,392.2 924.1,392.4C936.2,392.6 950.1,393.3 960.5,392.4C970.9,391.6 977.8,389.8 986.5,387.2C995.2,384.6 1003.8,380.1 1012.5,376.8C1021.2,373.5 1029.8,369.6 1038.5,367.5C1047.2,365.3 1055.0,364.0 1064.5,363.8C1074.1,363.6 1085.3,363.8 1095.7,366.4C1106.1,369.0 1116.5,374.6 1126.9,379.4C1137.3,384.2 1147.7,390.4 1158.1,395.0C1168.6,399.6 1180.7,403.5 1189.4,407.0C1198.0,410.5 1204.1,412.2 1210.2,415.8C1216.2,419.5 1221.0,424.1 1225.8,428.8C1230.5,433.6 1234.0,439.2 1238.8,444.4C1243.5,449.6 1248.7,456.4 1254.4,460.0C1260.0,463.7 1264.4,465.6 1272.6,466.3C1280.8,467.0 1294.3,467.0 1303.8,464.2C1313.3,461.4 1322.4,456.0 1329.8,449.6C1337.2,443.3 1343.7,434.9 1348.0,426.2C1352.4,417.6 1354.1,405.4 1355.8,397.6C1357.6,389.8 1355.8,385.1 1358.4,379.4C1361.0,373.8 1365.8,367.9 1371.4,363.8C1377.1,359.7 1385.5,357.1 1392.2,355.0C1399.0,352.8 1405.0,352.3 1412.0,350.8C1419.0,349.3 1430.8,346.9 1434.5,346.1Z"/>
<ellipse cx="1280.4" cy="366.4" rx="6" ry="2.5" fill="#ff1e00"/>
<use href="#coast"/>
</g>
<rect x="78.5" y="132.5" width="1331.0" height="656.0" fill="none" stroke="#000" stroke-width="3.33"/>
<rect x="78.50" y="831.5" width="333.35" height="66.29999999999995" fill="#0000ff"/>
<rect x="411.25" y="831.5" width="333.35" height="66.29999999999995" fill="#16ffe1"/>
<rect x="744.00" y="831.5" width="333.35" height="66.29999999999995" fill="#e4ff13"/>
<rect x="1076.75" y="831.5" width="333.35" height="66.29999999999995" fill="#ff1e00"/>
<rect x="78.5" y="831.5" width="1331.0" height="66.29999999999995" fill="none" stroke="#000" stroke-width="3.33"/>
<line x1="78.50" y1="897.8" x2="78.50" y2="912.4" stroke="#000" stroke-width="3.33"/>
<text x="78.50" y="959.2" font-family="&apos;Liberation Sans&apos;, sans-serif" font-size="44.3" text-anchor="middle" textLength="66.26" lengthAdjust="spacingAndGlyphs">0.0</text>
<line x1="411.25" y1="897.8" x2="411.25" y2="912.4" stroke="#000" stroke-width="3.33"/>
<text x="411.25" y="959.2" font-family="&apos;Liberation Sans&apos;, sans-serif" font-size="44.3" text-anchor="middle" textLength="66.26" lengthAdjust="spacingAndGlyphs">2.5</text>
<line x1="744.00" y1="897.8" x2="744.00" y2="912.4" stroke="#000" stroke-width="3.33"/>
<text x="744.00" y="959.2" font-family="&apos;Liberation Sans&apos;, sans-serif" font-size="44.3" text-anchor="middle" textLength="66.26" lengthAdjust="spacingAndGlyphs">5.0</text>
<line x1="1076.75" y1="897.8" x2="1076.75" y2="912.4" stroke="#000" stroke-width="3.33"/>
<text x="1076.75" y="959.2" font-family="&apos;Liberation Sans&apos;, sans-serif" font-size="44.3" text-anchor="middle" textLength="66.26" lengthAdjust="spacingAndGlyphs">7.5</text>
<line x1="1409.50" y1="897.8" x2="1409.50" y2="912.4" stroke="#000" stroke-width="3.33"/>
<text x="1409.50" y="959.2" font-family="&apos;Liberation Sans&apos;, sans-serif" font-size="44.3" text-anchor="middle" textLength="92.77" lengthAdjust="spacingAndGlyphs">10.0</text>
</g>
</svg></body></html>
